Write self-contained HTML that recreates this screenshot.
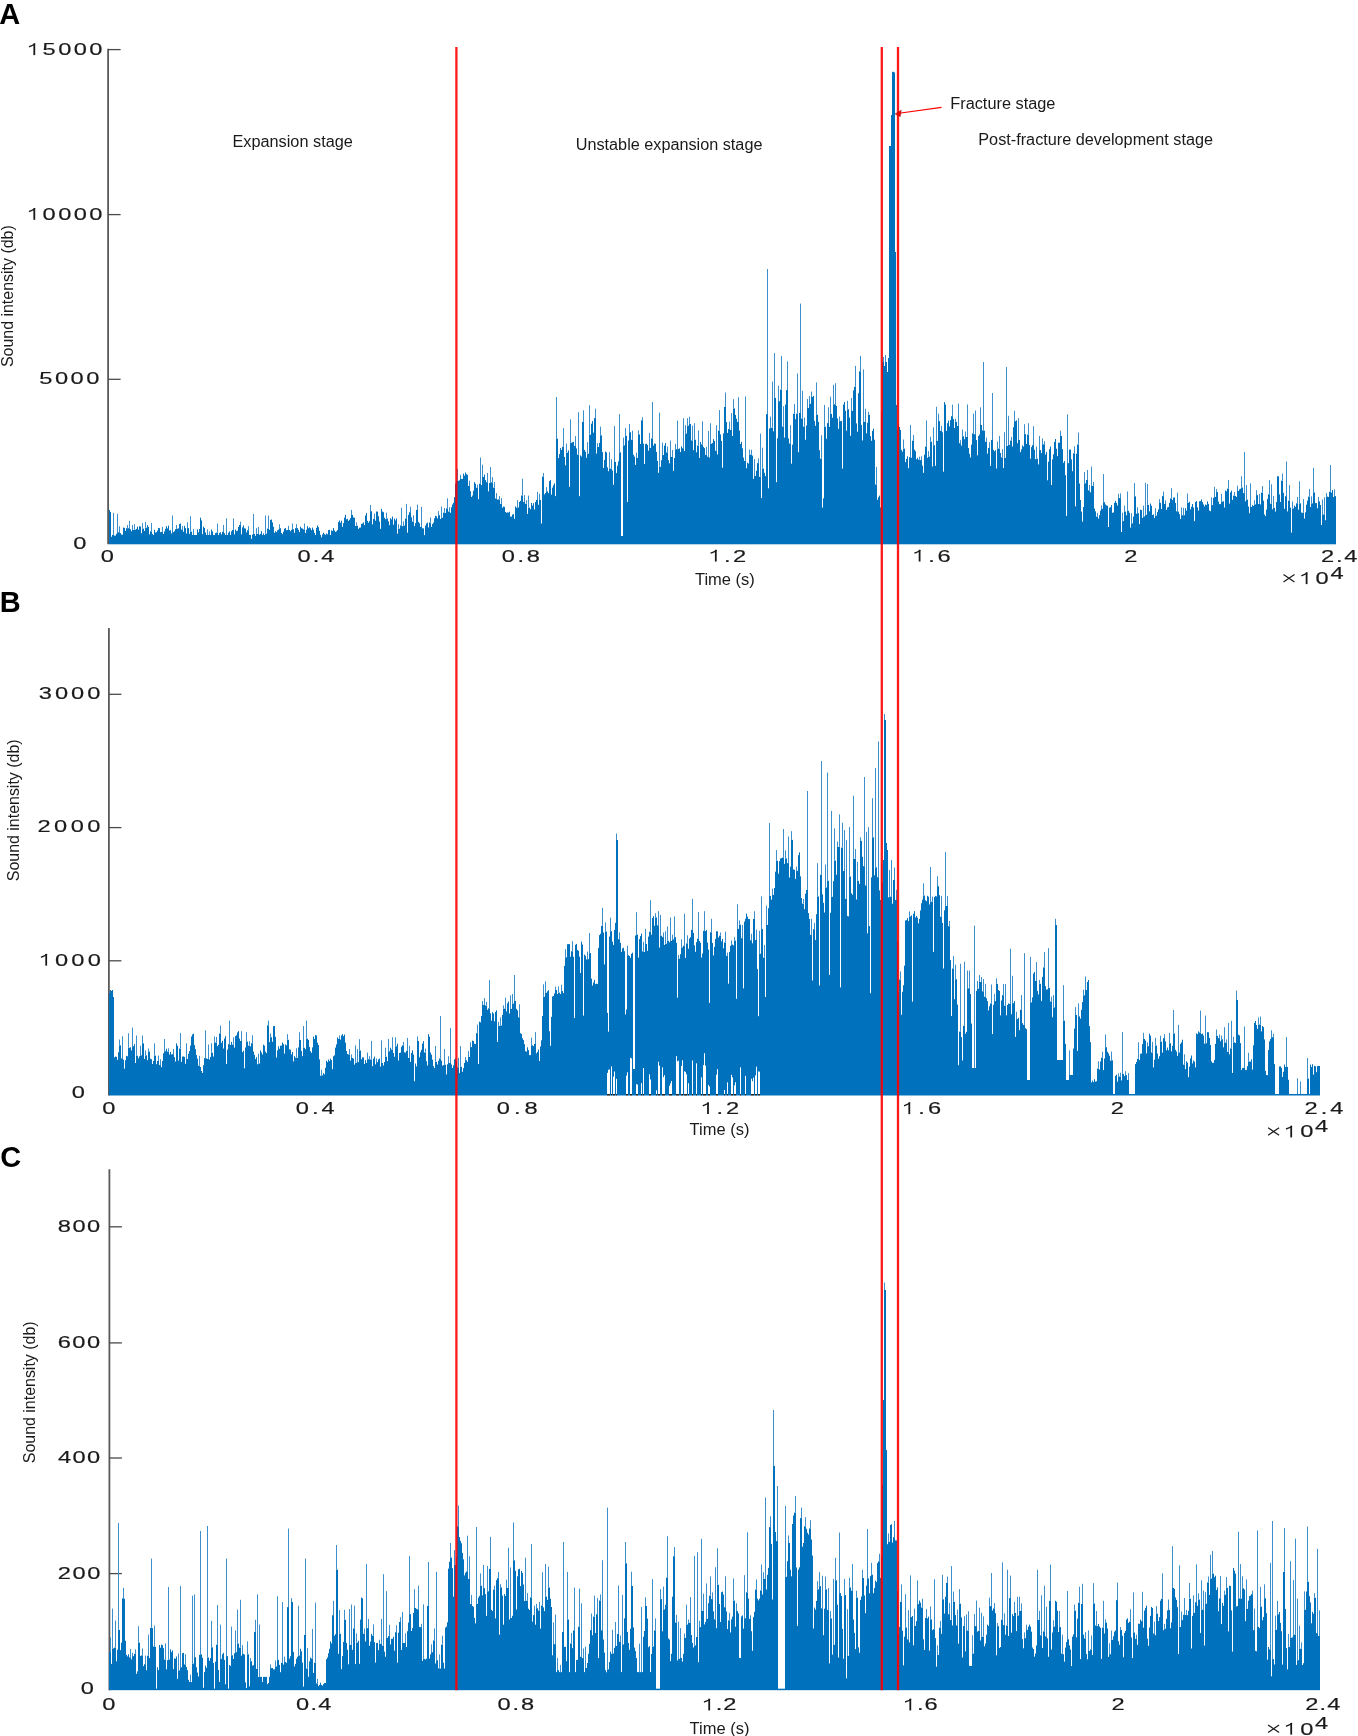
<!DOCTYPE html><html><head><meta charset="utf-8"><style>html,body{margin:0;padding:0;background:#fff;width:1358px;height:1736px;overflow:hidden}svg{display:block;font-family:"Liberation Sans",sans-serif;filter:blur(0.4px)}</style></head><body>
<svg width="1358" height="1736" viewBox="0 0 1358 1736">
<path d="M108.1 48.8V544.3" stroke="#5a5a5a" stroke-width="1.8" fill="none"/>
<path d="M108.1 49.6H120.6" stroke="#4a4a4a" stroke-width="1.3" fill="none"/>
<path d="M108.1 214.6H120.6" stroke="#4a4a4a" stroke-width="1.3" fill="none"/>
<path d="M108.1 379.3H120.6" stroke="#4a4a4a" stroke-width="1.3" fill="none"/>
<path d="M108.9 627.9V1095.5" stroke="#5a5a5a" stroke-width="1.8" fill="none"/>
<path d="M108.9 694.3H121.4" stroke="#4a4a4a" stroke-width="1.3" fill="none"/>
<path d="M108.9 827.6H121.4" stroke="#4a4a4a" stroke-width="1.3" fill="none"/>
<path d="M108.9 960.8H121.4" stroke="#4a4a4a" stroke-width="1.3" fill="none"/>
<path d="M109.4 1169.2V1690.2" stroke="#5a5a5a" stroke-width="1.8" fill="none"/>
<path d="M109.4 1226.8H121.9" stroke="#4a4a4a" stroke-width="1.3" fill="none"/>
<path d="M109.4 1342.9H121.9" stroke="#4a4a4a" stroke-width="1.3" fill="none"/>
<path d="M109.4 1458.0H121.9" stroke="#4a4a4a" stroke-width="1.3" fill="none"/>
<path d="M109.4 1573.6H121.9" stroke="#4a4a4a" stroke-width="1.3" fill="none"/>
<path d="M109.5 544.3V510.0M110.5 544.3V512.0M111.5 544.3V536.8M112.5 544.3V534.9M113.5 544.3V534.9M114.5 544.3V535.6M115.5 544.3V535.6M116.5 544.3V533.8M117.5 544.3V532.2M118.5 544.3V532.2M119.5 544.3V532.2M120.5 544.3V533.1M121.5 544.3V534.5M122.5 544.3V534.8M123.5 544.3V527.5M124.5 544.3V527.9M125.5 544.3V530.9M126.5 544.3V528.2M127.5 544.3V528.2M128.5 544.3V528.2M129.5 544.3V528.2M130.5 544.3V529.4M131.5 544.3V531.3M132.5 544.3V530.0M133.5 544.3V530.0M134.5 544.3V529.7M135.5 544.3V529.7M136.5 544.3V528.9M137.5 544.3V526.7M138.5 544.3V529.7M139.5 544.3V526.2M140.5 544.3V526.5M141.5 544.3V533.2M142.5 544.3V528.6M143.5 544.3V528.6M144.5 544.3V531.0M145.5 544.3V527.7M146.5 544.3V527.7M147.5 544.3V525.1M148.5 544.3V526.9M149.5 544.3V534.4M150.5 544.3V531.3M151.5 544.3V531.3M152.5 544.3V533.9M153.5 544.3V535.0M154.5 544.3V529.8M155.5 544.3V532.4M156.5 544.3V532.2M157.5 544.3V530.6M158.5 544.3V527.9M159.5 544.3V528.2M160.5 544.3V532.2M161.5 544.3V531.9M162.5 544.3V531.9M163.5 544.3V534.0M164.5 544.3V531.4M165.5 544.3V528.8M166.5 544.3V526.2M167.5 544.3V528.4M168.5 544.3V525.7M169.5 544.3V530.5M170.5 544.3V530.2M171.5 544.3V533.5M172.5 544.3V532.1M173.5 544.3V532.1M174.5 544.3V531.2M175.5 544.3V529.1M176.5 544.3V528.7M177.5 544.3V528.7M178.5 544.3V528.4M179.5 544.3V524.1M180.5 544.3V523.5M181.5 544.3V529.6M182.5 544.3V529.6M183.5 544.3V531.7M184.5 544.3V525.8M185.5 544.3V528.1M186.5 544.3V533.5M187.5 544.3V528.1M188.5 544.3V528.1M189.5 544.3V533.9M190.5 544.3V531.6M191.5 544.3V531.6M192.5 544.3V535.0M193.5 544.3V535.0M194.5 544.3V535.0M195.5 544.3V535.0M196.5 544.3V535.0M197.5 544.3V529.6M198.5 544.3V532.3M199.5 544.3V529.0M200.5 544.3V517.7M201.5 544.3V520.4M202.5 544.3V534.1M203.5 544.3V526.6M204.5 544.3V528.0M205.5 544.3V532.5M206.5 544.3V535.0M207.5 544.3V535.0M208.5 544.3V535.0M209.5 544.3V535.0M210.5 544.3V535.0M211.5 544.3V529.6M212.5 544.3V531.4M213.5 544.3V535.0M214.5 544.3V535.0M215.5 544.3V533.1M216.5 544.3V532.7M217.5 544.3V532.7M218.5 544.3V535.0M219.5 544.3V532.9M220.5 544.3V532.3M221.5 544.3V534.4M222.5 544.3V531.9M223.5 544.3V531.9M224.5 544.3V533.2M225.5 544.3V535.0M226.5 544.3V535.0M227.5 544.3V535.0M228.5 544.3V532.7M229.5 544.3V531.4M230.5 544.3V535.0M231.5 544.3V531.3M232.5 544.3V530.0M233.5 544.3V530.0M234.5 544.3V534.4M235.5 544.3V529.6M236.5 544.3V531.2M237.5 544.3V530.7M238.5 544.3V527.0M239.5 544.3V525.0M240.5 544.3V525.0M241.5 544.3V534.3M242.5 544.3V527.4M243.5 544.3V525.4M244.5 544.3V528.3M245.5 544.3V528.5M246.5 544.3V532.4M247.5 544.3V530.2M248.5 544.3V530.2M249.5 544.3V535.0M250.5 544.3V535.0M251.5 544.3V538.9M252.5 544.3V534.6M253.5 544.3V533.8M254.5 544.3V533.8M255.5 544.3V535.8M256.5 544.3V533.9M257.5 544.3V533.9M258.5 544.3V533.9M259.5 544.3V534.7M260.5 544.3V533.9M261.5 544.3V531.2M262.5 544.3V535.0M263.5 544.3V533.4M264.5 544.3V535.0M265.5 544.3V533.7M266.5 544.3V533.7M267.5 544.3V528.5M268.5 544.3V528.5M269.5 544.3V529.8M270.5 544.3V519.9M271.5 544.3V519.5M272.5 544.3V522.4M273.5 544.3V526.8M274.5 544.3V532.8M275.5 544.3V531.2M276.5 544.3V532.1M277.5 544.3V530.3M278.5 544.3V529.6M279.5 544.3V528.2M280.5 544.3V528.2M281.5 544.3V533.0M282.5 544.3V534.2M283.5 544.3V531.7M284.5 544.3V528.7M285.5 544.3V528.1M286.5 544.3V530.2M287.5 544.3V530.0M288.5 544.3V530.0M289.5 544.3V530.0M290.5 544.3V531.2M291.5 544.3V529.8M292.5 544.3V529.2M293.5 544.3V529.2M294.5 544.3V532.8M295.5 544.3V528.1M296.5 544.3V528.1M297.5 544.3V528.1M298.5 544.3V529.8M299.5 544.3V532.1M300.5 544.3V526.7M301.5 544.3V528.2M302.5 544.3V528.5M303.5 544.3V529.4M304.5 544.3V529.4M305.5 544.3V533.0M306.5 544.3V529.6M307.5 544.3V526.1M308.5 544.3V528.2M309.5 544.3V527.3M310.5 544.3V528.3M311.5 544.3V530.2M312.5 544.3V527.6M313.5 544.3V529.7M314.5 544.3V532.9M315.5 544.3V535.0M316.5 544.3V527.9M317.5 544.3V525.5M318.5 544.3V527.2M319.5 544.3V530.8M320.5 544.3V534.8M321.5 544.3V537.4M322.5 544.3V534.4M323.5 544.3V532.7M324.5 544.3V534.2M325.5 544.3V534.8M326.5 544.3V533.5M327.5 544.3V534.3M328.5 544.3V530.1M329.5 544.3V529.8M330.5 544.3V535.0M331.5 544.3V530.4M332.5 544.3V530.9M333.5 544.3V528.0M334.5 544.3V530.5M335.5 544.3V531.9M336.5 544.3V531.4M337.5 544.3V530.0M338.5 544.3V522.1M339.5 544.3V520.5M340.5 544.3V522.7M341.5 544.3V520.7M342.5 544.3V526.8M343.5 544.3V523.1M344.5 544.3V517.6M345.5 544.3V514.8M346.5 544.3V519.3M347.5 544.3V518.9M348.5 544.3V521.0M349.5 544.3V519.8M350.5 544.3V518.2M351.5 544.3V514.9M352.5 544.3V514.9M353.5 544.3V517.4M354.5 544.3V517.8M355.5 544.3V526.0M356.5 544.3V525.7M357.5 544.3V525.7M358.5 544.3V529.0M359.5 544.3V527.7M360.5 544.3V527.5M361.5 544.3V523.9M362.5 544.3V523.5M363.5 544.3V522.4M364.5 544.3V525.1M365.5 544.3V515.5M366.5 544.3V513.1M367.5 544.3V520.8M368.5 544.3V522.7M369.5 544.3V521.1M370.5 544.3V511.2M371.5 544.3V511.2M372.5 544.3V524.4M373.5 544.3V518.9M374.5 544.3V518.9M375.5 544.3V520.7M376.5 544.3V511.5M377.5 544.3V511.6M378.5 544.3V516.2M379.5 544.3V521.6M380.5 544.3V528.9M381.5 544.3V508.9M382.5 544.3V511.5M383.5 544.3V512.2M384.5 544.3V517.7M385.5 544.3V519.2M386.5 544.3V518.5M387.5 544.3V518.5M388.5 544.3V521.3M389.5 544.3V525.1M390.5 544.3V518.2M391.5 544.3V519.4M392.5 544.3V516.6M393.5 544.3V524.7M394.5 544.3V518.6M395.5 544.3V520.4M396.5 544.3V518.4M397.5 544.3V533.7M398.5 544.3V528.7M399.5 544.3V528.7M400.5 544.3V525.4M401.5 544.3V525.4M402.5 544.3V526.2M403.5 544.3V525.6M404.5 544.3V525.6M405.5 544.3V518.5M406.5 544.3V518.5M407.5 544.3V532.7M408.5 544.3V514.9M409.5 544.3V512.2M410.5 544.3V512.2M411.5 544.3V517.3M412.5 544.3V521.6M413.5 544.3V521.6M414.5 544.3V526.0M415.5 544.3V523.1M416.5 544.3V509.9M417.5 544.3V509.9M418.5 544.3V521.9M419.5 544.3V523.3M420.5 544.3V526.9M421.5 544.3V526.9M422.5 544.3V528.4M423.5 544.3V528.3M424.5 544.3V535.1M425.5 544.3V525.6M426.5 544.3V523.5M427.5 544.3V522.6M428.5 544.3V527.4M429.5 544.3V522.5M430.5 544.3V522.5M431.5 544.3V526.8M432.5 544.3V524.0M433.5 544.3V522.6M434.5 544.3V518.3M435.5 544.3V515.8M436.5 544.3V516.4M437.5 544.3V518.4M438.5 544.3V515.2M439.5 544.3V515.2M440.5 544.3V519.0M441.5 544.3V517.7M442.5 544.3V517.7M443.5 544.3V512.7M444.5 544.3V512.7M445.5 544.3V512.9M446.5 544.3V508.4M447.5 544.3V508.4M448.5 544.3V511.6M449.5 544.3V511.6M450.5 544.3V512.9M451.5 544.3V507.3M452.5 544.3V504.5M453.5 544.3V502.7M454.5 544.3V497.1M455.5 544.3V483.6M456.5 544.3V481.3M457.5 544.3V480.8M458.5 544.3V480.8M459.5 544.3V480.3M460.5 544.3V479.0M461.5 544.3V479.0M462.5 544.3V478.9M463.5 544.3V473.6M464.5 544.3V475.6M465.5 544.3V472.5M466.5 544.3V474.2M467.5 544.3V474.8M468.5 544.3V486.0M469.5 544.3V486.0M470.5 544.3V491.2M471.5 544.3V497.0M472.5 544.3V495.5M473.5 544.3V490.7M474.5 544.3V482.2M475.5 544.3V483.7M476.5 544.3V487.7M477.5 544.3V487.7M478.5 544.3V499.2M479.5 544.3V483.7M480.5 544.3V483.7M481.5 544.3V485.1M482.5 544.3V477.0M483.5 544.3V477.0M484.5 544.3V474.6M485.5 544.3V480.0M486.5 544.3V482.2M487.5 544.3V482.2M488.5 544.3V491.4M489.5 544.3V483.1M490.5 544.3V482.3M491.5 544.3V482.3M492.5 544.3V482.3M493.5 544.3V487.7M494.5 544.3V487.7M495.5 544.3V498.5M496.5 544.3V498.5M497.5 544.3V499.6M498.5 544.3V499.4M499.5 544.3V499.4M500.5 544.3V503.9M501.5 544.3V503.9M502.5 544.3V507.7M503.5 544.3V506.5M504.5 544.3V506.9M505.5 544.3V511.9M506.5 544.3V512.7M507.5 544.3V512.4M508.5 544.3V512.6M509.5 544.3V511.8M510.5 544.3V516.6M511.5 544.3V516.6M512.5 544.3V514.6M513.5 544.3V514.1M514.5 544.3V518.8M515.5 544.3V506.4M516.5 544.3V507.7M517.5 544.3V507.4M518.5 544.3V507.4M519.5 544.3V502.0M520.5 544.3V500.9M521.5 544.3V495.5M522.5 544.3V495.5M523.5 544.3V502.0M524.5 544.3V502.0M525.5 544.3V503.8M526.5 544.3V503.8M527.5 544.3V513.9M528.5 544.3V507.6M529.5 544.3V507.6M530.5 544.3V509.2M531.5 544.3V503.0M532.5 544.3V505.6M533.5 544.3V503.2M534.5 544.3V509.5M535.5 544.3V502.0M536.5 544.3V500.0M537.5 544.3V500.0M538.5 544.3V504.8M539.5 544.3V500.0M540.5 544.3V500.0M541.5 544.3V523.5M542.5 544.3V476.6M543.5 544.3V476.6M544.5 544.3V494.4M545.5 544.3V493.0M546.5 544.3V491.3M547.5 544.3V491.3M548.5 544.3V493.1M549.5 544.3V481.2M550.5 544.3V480.1M551.5 544.3V494.6M552.5 544.3V487.6M553.5 544.3V485.2M554.5 544.3V483.4M555.5 544.3V496.1M556.5 544.3V438.6M557.5 544.3V438.6M558.5 544.3V458.1M559.5 544.3V454.1M560.5 544.3V448.1M561.5 544.3V450.0M562.5 544.3V446.8M563.5 544.3V446.8M564.5 544.3V457.0M565.5 544.3V465.4M566.5 544.3V452.7M567.5 544.3V452.7M568.5 544.3V450.4M569.5 544.3V486.8M570.5 544.3V442.7M571.5 544.3V442.7M572.5 544.3V442.3M573.5 544.3V441.9M574.5 544.3V446.0M575.5 544.3V446.0M576.5 544.3V448.4M577.5 544.3V454.7M578.5 544.3V454.7M579.5 544.3V496.2M580.5 544.3V455.4M581.5 544.3V456.5M582.5 544.3V421.9M583.5 544.3V421.9M584.5 544.3V449.9M585.5 544.3V451.7M586.5 544.3V457.8M587.5 544.3V453.7M588.5 544.3V453.7M589.5 544.3V434.7M590.5 544.3V434.7M591.5 544.3V423.7M592.5 544.3V421.1M593.5 544.3V432.7M594.5 544.3V418.1M595.5 544.3V418.1M596.5 544.3V453.6M597.5 544.3V446.9M598.5 544.3V446.9M599.5 544.3V443.0M600.5 544.3V435.3M601.5 544.3V435.3M602.5 544.3V452.1M603.5 544.3V468.0M604.5 544.3V459.9M605.5 544.3V451.6M606.5 544.3V452.5M607.5 544.3V467.4M608.5 544.3V471.2M609.5 544.3V468.5M610.5 544.3V468.5M611.5 544.3V468.5M612.5 544.3V470.5M613.5 544.3V484.8M614.5 544.3V461.9M615.5 544.3V461.9M616.5 544.3V473.1M617.5 544.3V465.7M618.5 544.3V461.4M619.5 544.3V452.3M620.5 544.3V452.3M621.5 544.3V536.0M622.5 544.3V536.0M623.5 544.3V445.3M624.5 544.3V445.3M625.5 544.3V435.8M626.5 544.3V435.8M627.5 544.3V501.9M628.5 544.3V440.5M629.5 544.3V432.2M630.5 544.3V432.2M631.5 544.3V439.8M632.5 544.3V439.8M633.5 544.3V454.8M634.5 544.3V456.6M635.5 544.3V465.0M636.5 544.3V457.9M637.5 544.3V457.9M638.5 544.3V434.4M639.5 544.3V434.4M640.5 544.3V444.0M641.5 544.3V420.3M642.5 544.3V420.3M643.5 544.3V443.6M644.5 544.3V464.0M645.5 544.3V444.1M646.5 544.3V443.7M647.5 544.3V444.9M648.5 544.3V450.7M649.5 544.3V448.0M650.5 544.3V448.0M651.5 544.3V438.4M652.5 544.3V438.4M653.5 544.3V445.6M654.5 544.3V443.5M655.5 544.3V443.8M656.5 544.3V452.0M657.5 544.3V460.9M658.5 544.3V472.9M659.5 544.3V466.8M660.5 544.3V466.8M661.5 544.3V460.2M662.5 544.3V455.1M663.5 544.3V455.1M664.5 544.3V445.6M665.5 544.3V443.0M666.5 544.3V452.4M667.5 544.3V452.4M668.5 544.3V460.1M669.5 544.3V463.3M670.5 544.3V456.9M671.5 544.3V456.9M672.5 544.3V456.9M673.5 544.3V470.9M674.5 544.3V458.0M675.5 544.3V449.2M676.5 544.3V449.2M677.5 544.3V449.1M678.5 544.3V449.1M679.5 544.3V448.4M680.5 544.3V452.1M681.5 544.3V446.4M682.5 544.3V448.2M683.5 544.3V448.2M684.5 544.3V451.1M685.5 544.3V433.5M686.5 544.3V433.5M687.5 544.3V425.7M688.5 544.3V425.7M689.5 544.3V423.9M690.5 544.3V423.9M691.5 544.3V440.5M692.5 544.3V440.5M693.5 544.3V450.2M694.5 544.3V439.7M695.5 544.3V439.7M696.5 544.3V452.3M697.5 544.3V445.5M698.5 544.3V445.5M699.5 544.3V457.9M700.5 544.3V442.0M701.5 544.3V444.4M702.5 544.3V444.4M703.5 544.3V446.9M704.5 544.3V448.1M705.5 544.3V454.9M706.5 544.3V454.9M707.5 544.3V456.6M708.5 544.3V456.6M709.5 544.3V457.6M710.5 544.3V443.7M711.5 544.3V443.7M712.5 544.3V443.0M713.5 544.3V439.1M714.5 544.3V441.0M715.5 544.3V450.7M716.5 544.3V450.7M717.5 544.3V454.5M718.5 544.3V430.6M719.5 544.3V430.6M720.5 544.3V434.4M721.5 544.3V441.0M722.5 544.3V467.7M723.5 544.3V433.4M724.5 544.3V406.9M725.5 544.3V406.9M726.5 544.3V422.1M727.5 544.3V433.0M728.5 544.3V429.1M729.5 544.3V429.1M730.5 544.3V430.0M731.5 544.3V430.0M732.5 544.3V436.0M733.5 544.3V408.4M734.5 544.3V408.4M735.5 544.3V415.0M736.5 544.3V418.7M737.5 544.3V421.9M738.5 544.3V421.9M739.5 544.3V430.6M740.5 544.3V444.0M741.5 544.3V441.8M742.5 544.3V448.3M743.5 544.3V457.6M744.5 544.3V460.9M745.5 544.3V460.9M746.5 544.3V468.3M747.5 544.3V462.7M748.5 544.3V463.6M749.5 544.3V454.6M750.5 544.3V454.6M751.5 544.3V454.6M752.5 544.3V455.6M753.5 544.3V478.8M754.5 544.3V476.0M755.5 544.3V476.0M756.5 544.3V470.8M757.5 544.3V463.1M758.5 544.3V463.1M759.5 544.3V476.8M760.5 544.3V476.8M761.5 544.3V498.1M762.5 544.3V468.6M763.5 544.3V468.6M764.5 544.3V472.8M765.5 544.3V476.1M766.5 544.3V414.1M767.5 544.3V414.1M768.5 544.3V488.3M769.5 544.3V428.5M770.5 544.3V427.7M771.5 544.3V427.7M772.5 544.3V427.7M773.5 544.3V431.3M774.5 544.3V397.8M775.5 544.3V397.8M776.5 544.3V482.2M777.5 544.3V438.3M778.5 544.3V401.2M779.5 544.3V401.2M780.5 544.3V389.7M781.5 544.3V389.7M782.5 544.3V426.5M783.5 544.3V426.5M784.5 544.3V437.6M785.5 544.3V404.6M786.5 544.3V390.1M787.5 544.3V390.1M788.5 544.3V438.4M789.5 544.3V443.5M790.5 544.3V443.5M791.5 544.3V463.7M792.5 544.3V444.7M793.5 544.3V413.8M794.5 544.3V413.8M795.5 544.3V419.2M796.5 544.3V413.7M797.5 544.3V413.7M798.5 544.3V452.2M799.5 544.3V412.9M800.5 544.3V412.9M801.5 544.3V418.6M802.5 544.3V418.6M803.5 544.3V426.6M804.5 544.3V426.6M805.5 544.3V439.8M806.5 544.3V425.5M807.5 544.3V408.0M808.5 544.3V408.0M809.5 544.3V403.7M810.5 544.3V403.7M811.5 544.3V396.9M812.5 544.3V396.9M813.5 544.3V395.9M814.5 544.3V420.9M815.5 544.3V425.8M816.5 544.3V414.6M817.5 544.3V414.6M818.5 544.3V421.9M819.5 544.3V450.2M820.5 544.3V458.7M821.5 544.3V458.7M822.5 544.3V507.5M823.5 544.3V498.3M824.5 544.3V426.7M825.5 544.3V426.7M826.5 544.3V438.7M827.5 544.3V423.1M828.5 544.3V423.1M829.5 544.3V426.9M830.5 544.3V413.9M831.5 544.3V413.9M832.5 544.3V417.7M833.5 544.3V404.3M834.5 544.3V404.3M835.5 544.3V404.3M836.5 544.3V406.0M837.5 544.3V418.4M838.5 544.3V428.9M839.5 544.3V421.2M840.5 544.3V421.2M841.5 544.3V420.9M842.5 544.3V468.6M843.5 544.3V404.5M844.5 544.3V402.0M845.5 544.3V410.8M846.5 544.3V430.6M847.5 544.3V409.3M848.5 544.3V409.3M849.5 544.3V417.5M850.5 544.3V435.8M851.5 544.3V410.9M852.5 544.3V410.9M853.5 544.3V390.5M854.5 544.3V386.8M855.5 544.3V386.8M856.5 544.3V423.4M857.5 544.3V431.7M858.5 544.3V393.3M859.5 544.3V371.3M860.5 544.3V371.3M861.5 544.3V424.9M862.5 544.3V440.5M863.5 544.3V421.8M864.5 544.3V421.8M865.5 544.3V421.8M866.5 544.3V433.4M867.5 544.3V422.8M868.5 544.3V414.8M869.5 544.3V414.8M870.5 544.3V436.1M871.5 544.3V440.8M872.5 544.3V430.9M873.5 544.3V428.7M874.5 544.3V439.7M875.5 544.3V484.5M876.5 544.3V484.5M877.5 544.3V499.8M878.5 544.3V497.3M879.5 544.3V495.6M880.5 544.3V507.5M881.5 544.3V411.2M882.5 544.3V362.0M883.5 544.3V362.0M884.5 544.3V366.0M885.5 544.3V362.0M886.5 544.3V362.0M887.5 544.3V372.0M888.5 544.3V358.0M889.5 544.3V146.0M890.5 544.3V146.0M891.5 544.3V115.0M892.5 544.3V71.8M893.5 544.3V71.8M894.5 544.3V72.5M895.5 544.3V252.0M896.5 544.3V405.0M897.5 544.3V430.0M898.5 544.3V424.4M899.5 544.3V427.0M900.5 544.3V430.0M901.5 544.3V449.9M902.5 544.3V451.7M903.5 544.3V448.6M904.5 544.3V448.6M905.5 544.3V462.1M906.5 544.3V458.9M907.5 544.3V456.3M908.5 544.3V468.2M909.5 544.3V457.2M910.5 544.3V457.2M911.5 544.3V457.7M912.5 544.3V440.7M913.5 544.3V440.7M914.5 544.3V449.6M915.5 544.3V451.2M916.5 544.3V459.3M917.5 544.3V457.9M918.5 544.3V459.7M919.5 544.3V459.7M920.5 544.3V460.1M921.5 544.3V460.1M922.5 544.3V465.6M923.5 544.3V472.9M924.5 544.3V454.7M925.5 544.3V446.5M926.5 544.3V446.5M927.5 544.3V457.8M928.5 544.3V456.6M929.5 544.3V456.6M930.5 544.3V441.7M931.5 544.3V441.7M932.5 544.3V466.5M933.5 544.3V445.2M934.5 544.3V445.2M935.5 544.3V465.8M936.5 544.3V440.9M937.5 544.3V440.9M938.5 544.3V421.1M939.5 544.3V421.1M940.5 544.3V430.9M941.5 544.3V430.9M942.5 544.3V432.3M943.5 544.3V471.7M944.5 544.3V402.1M945.5 544.3V404.6M946.5 544.3V431.0M947.5 544.3V423.2M948.5 544.3V420.6M949.5 544.3V426.4M950.5 544.3V420.2M951.5 544.3V416.2M952.5 544.3V416.2M953.5 544.3V419.1M954.5 544.3V428.0M955.5 544.3V421.8M956.5 544.3V421.8M957.5 544.3V426.0M958.5 544.3V426.0M959.5 544.3V443.2M960.5 544.3V443.2M961.5 544.3V445.7M962.5 544.3V436.3M963.5 544.3V436.3M964.5 544.3V439.2M965.5 544.3V437.0M966.5 544.3V437.0M967.5 544.3V437.0M968.5 544.3V448.0M969.5 544.3V453.8M970.5 544.3V457.5M971.5 544.3V444.7M972.5 544.3V433.4M973.5 544.3V433.4M974.5 544.3V434.2M975.5 544.3V434.2M976.5 544.3V440.1M977.5 544.3V455.3M978.5 544.3V436.0M979.5 544.3V434.5M980.5 544.3V425.0M981.5 544.3V425.0M982.5 544.3V430.4M983.5 544.3V430.4M984.5 544.3V430.7M985.5 544.3V441.7M986.5 544.3V441.7M987.5 544.3V453.7M988.5 544.3V448.0M989.5 544.3V448.0M990.5 544.3V465.9M991.5 544.3V440.0M992.5 544.3V440.0M993.5 544.3V449.8M994.5 544.3V451.3M995.5 544.3V450.2M996.5 544.3V468.5M997.5 544.3V448.5M998.5 544.3V448.5M999.5 544.3V448.5M1000.5 544.3V453.0M1001.5 544.3V457.4M1002.5 544.3V457.4M1003.5 544.3V468.1M1004.5 544.3V457.9M1005.5 544.3V457.9M1006.5 544.3V445.9M1007.5 544.3V445.9M1008.5 544.3V444.9M1009.5 544.3V444.9M1010.5 544.3V440.6M1011.5 544.3V440.6M1012.5 544.3V446.5M1013.5 544.3V427.2M1014.5 544.3V421.2M1015.5 544.3V421.2M1016.5 544.3V420.4M1017.5 544.3V443.2M1018.5 544.3V440.0M1019.5 544.3V440.0M1020.5 544.3V452.1M1021.5 544.3V449.4M1022.5 544.3V445.4M1023.5 544.3V446.6M1024.5 544.3V434.1M1025.5 544.3V434.1M1026.5 544.3V443.9M1027.5 544.3V434.6M1028.5 544.3V434.6M1029.5 544.3V445.1M1030.5 544.3V458.7M1031.5 544.3V447.1M1032.5 544.3V445.1M1033.5 544.3V445.1M1034.5 544.3V449.8M1035.5 544.3V459.2M1036.5 544.3V458.6M1037.5 544.3V458.6M1038.5 544.3V464.4M1039.5 544.3V450.1M1040.5 544.3V450.1M1041.5 544.3V453.1M1042.5 544.3V444.3M1043.5 544.3V444.3M1044.5 544.3V444.3M1045.5 544.3V454.5M1046.5 544.3V451.9M1047.5 544.3V480.3M1048.5 544.3V461.7M1049.5 544.3V449.2M1050.5 544.3V446.5M1051.5 544.3V485.0M1052.5 544.3V459.3M1053.5 544.3V454.3M1054.5 544.3V441.9M1055.5 544.3V439.0M1056.5 544.3V448.7M1057.5 544.3V456.1M1058.5 544.3V442.8M1059.5 544.3V442.7M1060.5 544.3V435.9M1061.5 544.3V435.9M1062.5 544.3V449.2M1063.5 544.3V462.8M1064.5 544.3V461.1M1065.5 544.3V475.2M1066.5 544.3V515.9M1067.5 544.3V463.1M1068.5 544.3V463.1M1069.5 544.3V449.6M1070.5 544.3V449.7M1071.5 544.3V459.4M1072.5 544.3V471.2M1073.5 544.3V453.3M1074.5 544.3V453.3M1075.5 544.3V506.3M1076.5 544.3V453.8M1077.5 544.3V444.5M1078.5 544.3V444.5M1079.5 544.3V483.5M1080.5 544.3V500.0M1081.5 544.3V511.6M1082.5 544.3V521.6M1083.5 544.3V507.0M1084.5 544.3V483.3M1085.5 544.3V483.3M1086.5 544.3V480.0M1087.5 544.3V480.0M1088.5 544.3V490.4M1089.5 544.3V490.4M1090.5 544.3V492.4M1091.5 544.3V485.9M1092.5 544.3V485.9M1093.5 544.3V485.9M1094.5 544.3V508.6M1095.5 544.3V511.3M1096.5 544.3V516.6M1097.5 544.3V516.6M1098.5 544.3V518.6M1099.5 544.3V515.2M1100.5 544.3V510.7M1101.5 544.3V508.8M1102.5 544.3V508.8M1103.5 544.3V502.2M1104.5 544.3V502.2M1105.5 544.3V504.4M1106.5 544.3V505.4M1107.5 544.3V505.7M1108.5 544.3V527.0M1109.5 544.3V507.7M1110.5 544.3V507.3M1111.5 544.3V505.1M1112.5 544.3V512.8M1113.5 544.3V512.4M1114.5 544.3V502.8M1115.5 544.3V500.9M1116.5 544.3V502.9M1117.5 544.3V505.5M1118.5 544.3V498.1M1119.5 544.3V498.1M1120.5 544.3V498.1M1121.5 544.3V532.0M1122.5 544.3V521.1M1123.5 544.3V521.1M1124.5 544.3V511.6M1125.5 544.3V511.6M1126.5 544.3V515.3M1127.5 544.3V510.8M1128.5 544.3V510.8M1129.5 544.3V512.8M1130.5 544.3V527.6M1131.5 544.3V523.3M1132.5 544.3V523.3M1133.5 544.3V516.6M1134.5 544.3V496.3M1135.5 544.3V496.3M1136.5 544.3V513.7M1137.5 544.3V513.2M1138.5 544.3V513.2M1139.5 544.3V524.1M1140.5 544.3V509.7M1141.5 544.3V510.1M1142.5 544.3V517.9M1143.5 544.3V516.4M1144.5 544.3V516.4M1145.5 544.3V514.9M1146.5 544.3V514.9M1147.5 544.3V504.9M1148.5 544.3V504.9M1149.5 544.3V511.3M1150.5 544.3V503.5M1151.5 544.3V505.7M1152.5 544.3V515.0M1153.5 544.3V514.4M1154.5 544.3V518.1M1155.5 544.3V515.6M1156.5 544.3V515.6M1157.5 544.3V512.1M1158.5 544.3V509.4M1159.5 544.3V502.9M1160.5 544.3V502.9M1161.5 544.3V509.0M1162.5 544.3V496.1M1163.5 544.3V496.1M1164.5 544.3V504.0M1165.5 544.3V504.0M1166.5 544.3V509.9M1167.5 544.3V507.4M1168.5 544.3V507.0M1169.5 544.3V502.9M1170.5 544.3V498.4M1171.5 544.3V498.4M1172.5 544.3V500.1M1173.5 544.3V497.5M1174.5 544.3V497.5M1175.5 544.3V502.9M1176.5 544.3V511.3M1177.5 544.3V511.3M1178.5 544.3V511.6M1179.5 544.3V514.2M1180.5 544.3V519.1M1181.5 544.3V515.2M1182.5 544.3V515.2M1183.5 544.3V515.2M1184.5 544.3V515.2M1185.5 544.3V508.2M1186.5 544.3V510.7M1187.5 544.3V502.8M1188.5 544.3V502.8M1189.5 544.3V501.8M1190.5 544.3V509.4M1191.5 544.3V506.8M1192.5 544.3V504.0M1193.5 544.3V507.5M1194.5 544.3V521.2M1195.5 544.3V501.9M1196.5 544.3V501.2M1197.5 544.3V507.3M1198.5 544.3V510.6M1199.5 544.3V501.3M1200.5 544.3V501.1M1201.5 544.3V499.4M1202.5 544.3V502.1M1203.5 544.3V504.4M1204.5 544.3V506.4M1205.5 544.3V504.5M1206.5 544.3V505.0M1207.5 544.3V501.4M1208.5 544.3V503.9M1209.5 544.3V510.6M1210.5 544.3V511.2M1211.5 544.3V505.1M1212.5 544.3V505.1M1213.5 544.3V497.9M1214.5 544.3V496.9M1215.5 544.3V496.9M1216.5 544.3V492.1M1217.5 544.3V492.1M1218.5 544.3V501.6M1219.5 544.3V504.1M1220.5 544.3V504.1M1221.5 544.3V501.7M1222.5 544.3V501.7M1223.5 544.3V501.2M1224.5 544.3V507.5M1225.5 544.3V490.5M1226.5 544.3V491.3M1227.5 544.3V488.6M1228.5 544.3V488.6M1229.5 544.3V503.6M1230.5 544.3V492.4M1231.5 544.3V490.7M1232.5 544.3V499.9M1233.5 544.3V495.6M1234.5 544.3V495.6M1235.5 544.3V496.0M1236.5 544.3V496.9M1237.5 544.3V491.0M1238.5 544.3V491.0M1239.5 544.3V489.4M1240.5 544.3V488.8M1241.5 544.3V487.5M1242.5 544.3V487.5M1243.5 544.3V493.1M1244.5 544.3V493.1M1245.5 544.3V501.3M1246.5 544.3V499.6M1247.5 544.3V499.6M1248.5 544.3V506.6M1249.5 544.3V513.3M1250.5 544.3V507.0M1251.5 544.3V507.0M1252.5 544.3V505.2M1253.5 544.3V505.9M1254.5 544.3V504.4M1255.5 544.3V504.4M1256.5 544.3V495.1M1257.5 544.3V495.1M1258.5 544.3V504.0M1259.5 544.3V504.0M1260.5 544.3V504.4M1261.5 544.3V492.7M1262.5 544.3V492.7M1263.5 544.3V500.7M1264.5 544.3V514.5M1265.5 544.3V516.1M1266.5 544.3V509.6M1267.5 544.3V498.8M1268.5 544.3V494.3M1269.5 544.3V494.3M1270.5 544.3V503.7M1271.5 544.3V503.7M1272.5 544.3V509.3M1273.5 544.3V507.8M1274.5 544.3V507.8M1275.5 544.3V511.5M1276.5 544.3V502.1M1277.5 544.3V476.2M1278.5 544.3V476.4M1279.5 544.3V494.4M1280.5 544.3V501.9M1281.5 544.3V480.7M1282.5 544.3V480.7M1283.5 544.3V492.9M1284.5 544.3V508.8M1285.5 544.3V496.2M1286.5 544.3V496.2M1287.5 544.3V511.4M1288.5 544.3V500.6M1289.5 544.3V500.6M1290.5 544.3V507.6M1291.5 544.3V532.6M1292.5 544.3V508.4M1293.5 544.3V508.4M1294.5 544.3V505.6M1295.5 544.3V506.9M1296.5 544.3V503.3M1297.5 544.3V503.3M1298.5 544.3V509.7M1299.5 544.3V503.3M1300.5 544.3V503.3M1301.5 544.3V512.5M1302.5 544.3V512.8M1303.5 544.3V512.8M1304.5 544.3V518.5M1305.5 544.3V512.3M1306.5 544.3V504.7M1307.5 544.3V500.6M1308.5 544.3V496.6M1309.5 544.3V496.6M1310.5 544.3V507.0M1311.5 544.3V503.4M1312.5 544.3V503.4M1313.5 544.3V492.4M1314.5 544.3V492.4M1315.5 544.3V503.1M1316.5 544.3V503.1M1317.5 544.3V508.3M1318.5 544.3V501.3M1319.5 544.3V501.3M1320.5 544.3V505.0M1321.5 544.3V525.0M1322.5 544.3V514.4M1323.5 544.3V514.4M1324.5 544.3V514.4M1325.5 544.3V520.2M1326.5 544.3V496.5M1327.5 544.3V496.5M1328.5 544.3V497.0M1329.5 544.3V491.8M1330.5 544.3V491.8M1331.5 544.3V492.7M1332.5 544.3V490.1M1333.5 544.3V497.1M1334.5 544.3V496.1M1335.5 544.3V496.1" stroke="#0072bd" stroke-width="1" fill="none"/>
<path d="M113.5 534.9V512.9M117.5 532.2V513.8M119.5 532.2V526.3M127.5 528.2V525.0M129.5 528.2V520.9M132.5 530.0V524.9M134.5 529.7V524.2M142.5 528.6V523.2M145.5 527.7V522.0M151.5 531.3V523.0M162.5 531.9V526.9M172.5 532.1V515.5M176.5 528.7V525.0M182.5 529.6V526.1M187.5 528.1V522.3M190.5 531.6V516.3M193.5 535.0V529.0M207.5 535.0V529.3M209.5 535.0V531.5M217.5 532.7V523.6M223.5 531.9V524.9M226.5 535.0V518.4M233.5 530.0V518.5M240.5 525.0V521.6M248.5 530.2V526.2M253.5 533.8V514.0M256.5 533.9V528.1M258.5 533.9V526.9M265.5 533.7V515.5M268.5 528.5V515.6M279.5 528.2V524.3M288.5 530.0V525.9M292.5 529.2V523.5M296.5 528.1V524.1M304.5 529.4V523.5M351.5 514.9V509.9M356.5 525.7V522.3M370.5 511.2V505.0M374.5 518.9V513.7M386.5 518.5V512.6M398.5 528.7V524.2M401.5 525.4V507.7M403.5 525.6V521.5M406.5 518.5V503.9M410.5 512.2V506.7M413.5 521.6V515.3M417.5 509.9V504.6M421.5 526.9V506.8M430.5 522.5V517.5M438.5 515.2V511.1M441.5 517.7V506.6M444.5 512.7V508.1M447.5 508.4V498.3M449.5 511.6V507.2M457.5 480.8V469.0M460.5 479.0V474.8M469.5 486.0V480.7M477.5 487.7V484.6M480.5 483.7V457.5M482.5 477.0V464.7M487.5 482.2V473.0M490.5 482.3V467.1M492.5 482.3V477.1M494.5 487.7V482.2M496.5 498.5V493.1M499.5 499.4V496.1M501.5 503.9V498.1M517.5 507.4V500.1M522.5 495.5V478.7M524.5 502.0V495.1M526.5 503.8V500.3M528.5 507.6V495.6M537.5 500.0V491.8M539.5 500.0V493.8M543.5 476.6V473.0M546.5 491.3V487.1M556.5 438.6V397.0M563.5 446.8V428.1M566.5 452.7V443.6M570.5 442.7V419.3M575.5 446.0V436.1M578.5 454.7V412.2M583.5 421.9V410.3M587.5 453.7V442.2M589.5 434.7V405.2M595.5 418.1V408.6M597.5 446.9V443.1M600.5 435.3V426.6M609.5 468.5V452.1M611.5 468.5V459.2M614.5 461.9V426.1M619.5 452.3V414.2M623.5 445.3V437.6M625.5 435.8V428.0M629.5 432.2V423.9M632.5 439.8V430.7M636.5 457.9V452.6M638.5 434.4V430.4M642.5 420.3V417.2M649.5 448.0V432.9M652.5 438.4V402.0M659.5 466.8V412.7M662.5 455.1V442.6M667.5 452.4V446.5M670.5 456.9V440.5M672.5 456.9V450.0M675.5 449.2V443.8M677.5 449.1V420.6M683.5 448.2V418.2M685.5 433.5V425.2M687.5 425.7V418.2M689.5 423.9V416.7M692.5 440.5V425.6M694.5 439.7V423.2M698.5 445.5V430.5M702.5 444.4V421.3M706.5 454.9V446.9M708.5 456.6V430.9M710.5 443.7V423.3M716.5 450.7V425.2M719.5 430.6V410.1M725.5 406.9V392.5M729.5 429.1V421.7M731.5 430.0V413.1M733.5 408.4V399.2M738.5 421.9V397.2M745.5 460.9V396.5M749.5 454.6V449.5M751.5 454.6V449.7M754.5 476.0V459.1M758.5 463.1V458.4M760.5 476.8V433.6M762.5 468.6V447.7M767.5 414.1V269.0M770.5 427.7V416.6M772.5 427.7V381.6M774.5 397.8V353.0M778.5 401.2V385.7M781.5 389.7V356.0M783.5 426.5V406.2M787.5 390.1V361.4M790.5 443.5V425.2M794.5 413.8V404.0M797.5 413.7V373.5M800.5 412.9V303.6M802.5 418.6V390.7M804.5 426.6V417.7M807.5 408.0V399.0M809.5 403.7V396.1M811.5 396.9V391.6M816.5 414.6V382.4M821.5 458.7V435.2M824.5 426.7V404.9M828.5 423.1V407.3M830.5 413.9V396.7M833.5 404.3V384.8M835.5 404.3V383.2M839.5 421.2V416.5M847.5 409.3V400.8M851.5 410.9V398.0M855.5 386.8V365.9M860.5 371.3V355.9M863.5 421.8V369.5M865.5 421.8V408.8M868.5 414.8V411.8M876.5 484.5V466.8M883.5 362.0V357.0M885.5 362.0V355.0M903.5 448.6V439.5M910.5 457.2V424.9M913.5 440.7V435.0M919.5 459.7V456.7M921.5 460.1V456.3M926.5 446.5V420.5M928.5 456.6V451.1M930.5 441.7V436.7M933.5 445.2V427.4M936.5 440.9V406.8M938.5 421.1V413.6M941.5 430.9V425.8M952.5 416.2V404.7M955.5 421.8V418.7M958.5 426.0V403.6M960.5 443.2V440.1M962.5 436.3V429.5M965.5 437.0V431.5M967.5 437.0V404.5M973.5 433.4V413.7M975.5 434.2V410.5M980.5 425.0V407.3M983.5 430.4V362.0M986.5 441.7V437.6M989.5 448.0V442.2M992.5 440.0V393.0M997.5 448.5V441.6M999.5 448.5V435.9M1002.5 457.4V449.3M1004.5 457.9V432.2M1006.5 445.9V367.0M1008.5 444.9V415.8M1011.5 440.6V436.9M1014.5 421.2V410.8M1018.5 440.0V418.1M1024.5 434.1V424.2M1028.5 434.6V423.2M1033.5 445.1V426.2M1036.5 458.6V446.5M1039.5 450.1V435.9M1042.5 444.3V438.5M1044.5 444.3V441.3M1060.5 435.9V430.7M1067.5 463.1V414.4M1074.5 453.3V446.3M1078.5 444.5V432.5M1084.5 483.3V472.1M1087.5 480.0V470.0M1089.5 490.4V485.0M1091.5 485.9V466.6M1093.5 485.9V482.0M1097.5 516.6V512.9M1101.5 508.8V505.4M1103.5 502.2V474.1M1118.5 498.1V493.8M1120.5 498.1V493.4M1122.5 521.1V512.6M1124.5 511.6V505.6M1127.5 510.8V491.5M1131.5 523.3V513.3M1134.5 496.3V483.1M1137.5 513.2V507.2M1143.5 516.4V505.6M1145.5 514.9V482.8M1147.5 504.9V484.1M1155.5 515.6V508.2M1159.5 502.9V499.2M1163.5 496.1V491.6M1165.5 504.0V500.4M1171.5 498.4V488.3M1177.5 511.3V492.7M1181.5 515.2V507.5M1183.5 515.2V507.8M1187.5 502.8V493.5M1211.5 505.1V497.4M1214.5 496.9V486.8M1216.5 492.1V489.1M1221.5 501.7V493.9M1228.5 488.6V480.0M1234.5 495.6V492.1M1237.5 491.0V485.6M1241.5 487.5V476.4M1244.5 493.1V452.0M1246.5 499.6V485.1M1250.5 507.0V483.3M1254.5 504.4V500.4M1256.5 495.1V490.2M1259.5 504.0V493.9M1262.5 492.7V486.1M1269.5 494.3V480.1M1271.5 503.7V484.3M1273.5 507.8V496.0M1282.5 480.7V473.6M1286.5 496.2V461.5M1289.5 500.6V485.1M1292.5 508.4V501.5M1297.5 503.3V496.9M1299.5 503.3V481.3M1303.5 512.8V499.1M1309.5 496.6V489.0M1311.5 503.4V496.3M1313.5 492.4V467.8M1318.5 501.3V497.0M1322.5 514.4V499.5M1324.5 514.4V497.3M1326.5 496.5V493.1M1330.5 491.8V465.0M1334.5 496.1V489.4" stroke="#3a8fcc" stroke-width="1" fill="none"/>
<path d="M109.5 1095.5V993.0M110.5 1095.5V990.0M111.5 1095.5V991.0M112.5 1095.5V990.0M113.5 1095.5V997.0M114.5 1095.5V1057.3M115.5 1095.5V1056.5M116.5 1095.5V1056.8M117.5 1095.5V1059.9M118.5 1095.5V1052.3M119.5 1095.5V1045.3M120.5 1095.5V1045.3M121.5 1095.5V1058.3M122.5 1095.5V1058.3M123.5 1095.5V1059.7M124.5 1095.5V1068.7M125.5 1095.5V1060.2M126.5 1095.5V1055.8M127.5 1095.5V1056.3M128.5 1095.5V1047.8M129.5 1095.5V1047.8M130.5 1095.5V1047.3M131.5 1095.5V1050.4M132.5 1095.5V1046.2M133.5 1095.5V1046.2M134.5 1095.5V1044.1M135.5 1095.5V1063.0M136.5 1095.5V1055.7M137.5 1095.5V1055.7M138.5 1095.5V1058.3M139.5 1095.5V1056.3M140.5 1095.5V1055.3M141.5 1095.5V1055.3M142.5 1095.5V1043.3M143.5 1095.5V1043.3M144.5 1095.5V1059.0M145.5 1095.5V1055.4M146.5 1095.5V1055.4M147.5 1095.5V1060.2M148.5 1095.5V1051.6M149.5 1095.5V1051.6M150.5 1095.5V1058.6M151.5 1095.5V1059.3M152.5 1095.5V1064.0M153.5 1095.5V1060.9M154.5 1095.5V1055.6M155.5 1095.5V1055.6M156.5 1095.5V1064.2M157.5 1095.5V1061.0M158.5 1095.5V1061.0M159.5 1095.5V1065.1M160.5 1095.5V1065.1M161.5 1095.5V1067.2M162.5 1095.5V1061.0M163.5 1095.5V1053.3M164.5 1095.5V1051.2M165.5 1095.5V1051.2M166.5 1095.5V1048.8M167.5 1095.5V1051.6M168.5 1095.5V1051.6M169.5 1095.5V1054.6M170.5 1095.5V1051.9M171.5 1095.5V1054.4M172.5 1095.5V1054.2M173.5 1095.5V1054.2M174.5 1095.5V1057.2M175.5 1095.5V1061.5M176.5 1095.5V1043.4M177.5 1095.5V1045.7M178.5 1095.5V1060.6M179.5 1095.5V1048.6M180.5 1095.5V1048.6M181.5 1095.5V1061.9M182.5 1095.5V1056.6M183.5 1095.5V1056.4M184.5 1095.5V1056.9M185.5 1095.5V1063.8M186.5 1095.5V1059.0M187.5 1095.5V1059.0M188.5 1095.5V1053.8M189.5 1095.5V1051.1M190.5 1095.5V1045.6M191.5 1095.5V1036.5M192.5 1095.5V1034.4M193.5 1095.5V1033.7M194.5 1095.5V1045.1M195.5 1095.5V1049.2M196.5 1095.5V1055.1M197.5 1095.5V1058.7M198.5 1095.5V1065.7M199.5 1095.5V1065.7M200.5 1095.5V1067.0M201.5 1095.5V1071.0M202.5 1095.5V1073.0M203.5 1095.5V1065.3M204.5 1095.5V1058.2M205.5 1095.5V1058.2M206.5 1095.5V1058.3M207.5 1095.5V1059.0M208.5 1095.5V1059.0M209.5 1095.5V1059.5M210.5 1095.5V1056.9M211.5 1095.5V1052.7M212.5 1095.5V1052.7M213.5 1095.5V1056.5M214.5 1095.5V1042.5M215.5 1095.5V1042.5M216.5 1095.5V1042.5M217.5 1095.5V1046.1M218.5 1095.5V1044.7M219.5 1095.5V1033.5M220.5 1095.5V1033.5M221.5 1095.5V1042.8M222.5 1095.5V1040.8M223.5 1095.5V1048.5M224.5 1095.5V1038.5M225.5 1095.5V1036.2M226.5 1095.5V1064.0M227.5 1095.5V1049.6M228.5 1095.5V1044.2M229.5 1095.5V1044.2M230.5 1095.5V1045.0M231.5 1095.5V1041.9M232.5 1095.5V1044.6M233.5 1095.5V1044.6M234.5 1095.5V1047.6M235.5 1095.5V1036.1M236.5 1095.5V1035.3M237.5 1095.5V1032.4M238.5 1095.5V1031.1M239.5 1095.5V1038.6M240.5 1095.5V1041.0M241.5 1095.5V1041.0M242.5 1095.5V1052.2M243.5 1095.5V1050.9M244.5 1095.5V1068.3M245.5 1095.5V1047.5M246.5 1095.5V1041.5M247.5 1095.5V1041.5M248.5 1095.5V1045.7M249.5 1095.5V1045.7M250.5 1095.5V1046.4M251.5 1095.5V1043.2M252.5 1095.5V1043.2M253.5 1095.5V1051.6M254.5 1095.5V1054.8M255.5 1095.5V1059.1M256.5 1095.5V1057.1M257.5 1095.5V1064.3M258.5 1095.5V1063.5M259.5 1095.5V1063.5M260.5 1095.5V1050.4M261.5 1095.5V1052.4M262.5 1095.5V1054.5M263.5 1095.5V1044.7M264.5 1095.5V1045.6M265.5 1095.5V1051.7M266.5 1095.5V1053.1M267.5 1095.5V1025.3M268.5 1095.5V1025.3M269.5 1095.5V1042.1M270.5 1095.5V1037.2M271.5 1095.5V1037.2M272.5 1095.5V1041.8M273.5 1095.5V1026.2M274.5 1095.5V1025.9M275.5 1095.5V1036.8M276.5 1095.5V1057.6M277.5 1095.5V1050.4M278.5 1095.5V1046.3M279.5 1095.5V1048.8M280.5 1095.5V1045.7M281.5 1095.5V1045.6M282.5 1095.5V1042.5M283.5 1095.5V1044.2M284.5 1095.5V1053.7M285.5 1095.5V1044.5M286.5 1095.5V1045.3M287.5 1095.5V1039.8M288.5 1095.5V1039.8M289.5 1095.5V1049.4M290.5 1095.5V1049.7M291.5 1095.5V1054.4M292.5 1095.5V1052.0M293.5 1095.5V1061.4M294.5 1095.5V1056.1M295.5 1095.5V1057.7M296.5 1095.5V1057.7M297.5 1095.5V1057.9M298.5 1095.5V1047.4M299.5 1095.5V1040.0M300.5 1095.5V1040.0M301.5 1095.5V1050.9M302.5 1095.5V1056.1M303.5 1095.5V1047.8M304.5 1095.5V1047.8M305.5 1095.5V1049.2M306.5 1095.5V1038.6M307.5 1095.5V1038.6M308.5 1095.5V1040.0M309.5 1095.5V1046.9M310.5 1095.5V1051.2M311.5 1095.5V1052.8M312.5 1095.5V1047.4M313.5 1095.5V1036.5M314.5 1095.5V1039.0M315.5 1095.5V1035.1M316.5 1095.5V1035.5M317.5 1095.5V1042.7M318.5 1095.5V1045.0M319.5 1095.5V1059.4M320.5 1095.5V1075.7M321.5 1095.5V1075.4M322.5 1095.5V1075.4M323.5 1095.5V1073.2M324.5 1095.5V1074.3M325.5 1095.5V1067.8M326.5 1095.5V1060.8M327.5 1095.5V1062.1M328.5 1095.5V1059.5M329.5 1095.5V1061.2M330.5 1095.5V1058.7M331.5 1095.5V1060.1M332.5 1095.5V1069.2M333.5 1095.5V1056.3M334.5 1095.5V1055.3M335.5 1095.5V1047.6M336.5 1095.5V1044.4M337.5 1095.5V1037.5M338.5 1095.5V1038.9M339.5 1095.5V1038.9M340.5 1095.5V1039.6M341.5 1095.5V1035.4M342.5 1095.5V1034.1M343.5 1095.5V1036.2M344.5 1095.5V1034.5M345.5 1095.5V1042.6M346.5 1095.5V1051.0M347.5 1095.5V1054.0M348.5 1095.5V1054.5M349.5 1095.5V1054.5M350.5 1095.5V1060.7M351.5 1095.5V1058.0M352.5 1095.5V1058.0M353.5 1095.5V1058.6M354.5 1095.5V1064.6M355.5 1095.5V1062.7M356.5 1095.5V1062.7M357.5 1095.5V1062.1M358.5 1095.5V1062.1M359.5 1095.5V1050.5M360.5 1095.5V1050.5M361.5 1095.5V1059.3M362.5 1095.5V1057.3M363.5 1095.5V1057.4M364.5 1095.5V1064.0M365.5 1095.5V1060.1M366.5 1095.5V1062.9M367.5 1095.5V1059.2M368.5 1095.5V1059.2M369.5 1095.5V1059.2M370.5 1095.5V1059.5M371.5 1095.5V1059.5M372.5 1095.5V1066.2M373.5 1095.5V1058.7M374.5 1095.5V1056.6M375.5 1095.5V1064.4M376.5 1095.5V1062.1M377.5 1095.5V1062.1M378.5 1095.5V1059.4M379.5 1095.5V1058.6M380.5 1095.5V1066.6M381.5 1095.5V1062.9M382.5 1095.5V1062.9M383.5 1095.5V1065.5M384.5 1095.5V1062.0M385.5 1095.5V1056.8M386.5 1095.5V1056.8M387.5 1095.5V1061.2M388.5 1095.5V1051.3M389.5 1095.5V1051.3M390.5 1095.5V1047.7M391.5 1095.5V1049.6M392.5 1095.5V1049.6M393.5 1095.5V1053.0M394.5 1095.5V1056.8M395.5 1095.5V1046.3M396.5 1095.5V1046.3M397.5 1095.5V1043.7M398.5 1095.5V1060.5M399.5 1095.5V1053.0M400.5 1095.5V1052.6M401.5 1095.5V1046.8M402.5 1095.5V1045.3M403.5 1095.5V1045.3M404.5 1095.5V1052.3M405.5 1095.5V1052.6M406.5 1095.5V1050.9M407.5 1095.5V1050.9M408.5 1095.5V1057.9M409.5 1095.5V1057.9M410.5 1095.5V1061.8M411.5 1095.5V1052.9M412.5 1095.5V1050.3M413.5 1095.5V1054.6M414.5 1095.5V1081.3M415.5 1095.5V1063.5M416.5 1095.5V1066.4M417.5 1095.5V1041.0M418.5 1095.5V1041.0M419.5 1095.5V1057.3M420.5 1095.5V1052.3M421.5 1095.5V1049.8M422.5 1095.5V1043.6M423.5 1095.5V1041.2M424.5 1095.5V1052.5M425.5 1095.5V1052.5M426.5 1095.5V1061.2M427.5 1095.5V1065.5M428.5 1095.5V1034.1M429.5 1095.5V1036.7M430.5 1095.5V1052.5M431.5 1095.5V1054.7M432.5 1095.5V1059.7M433.5 1095.5V1066.1M434.5 1095.5V1068.1M435.5 1095.5V1061.9M436.5 1095.5V1061.9M437.5 1095.5V1064.5M438.5 1095.5V1060.8M439.5 1095.5V1058.5M440.5 1095.5V1058.5M441.5 1095.5V1060.7M442.5 1095.5V1065.6M443.5 1095.5V1065.2M444.5 1095.5V1064.7M445.5 1095.5V1064.7M446.5 1095.5V1074.4M447.5 1095.5V1064.3M448.5 1095.5V1063.0M449.5 1095.5V1063.0M450.5 1095.5V1063.0M451.5 1095.5V1064.5M452.5 1095.5V1068.0M453.5 1095.5V1065.4M454.5 1095.5V1059.4M455.5 1095.5V1058.3M456.5 1095.5V1061.7M457.5 1095.5V1067.3M458.5 1095.5V1067.3M459.5 1095.5V1073.1M460.5 1095.5V1066.8M461.5 1095.5V1066.8M462.5 1095.5V1071.8M463.5 1095.5V1068.2M464.5 1095.5V1063.0M465.5 1095.5V1060.2M466.5 1095.5V1060.2M467.5 1095.5V1061.8M468.5 1095.5V1056.9M469.5 1095.5V1056.9M470.5 1095.5V1047.1M471.5 1095.5V1047.1M472.5 1095.5V1040.6M473.5 1095.5V1041.0M474.5 1095.5V1043.8M475.5 1095.5V1044.1M476.5 1095.5V1033.2M477.5 1095.5V1033.2M478.5 1095.5V1064.0M479.5 1095.5V1021.7M480.5 1095.5V1022.3M481.5 1095.5V1016.0M482.5 1095.5V1004.9M483.5 1095.5V1004.9M484.5 1095.5V1004.9M485.5 1095.5V1005.5M486.5 1095.5V1005.5M487.5 1095.5V1009.8M488.5 1095.5V1008.3M489.5 1095.5V1008.3M490.5 1095.5V1013.4M491.5 1095.5V1020.7M492.5 1095.5V1012.2M493.5 1095.5V1013.5M494.5 1095.5V1021.3M495.5 1095.5V1011.9M496.5 1095.5V1010.3M497.5 1095.5V1041.9M498.5 1095.5V1025.9M499.5 1095.5V1025.9M500.5 1095.5V1025.5M501.5 1095.5V1025.5M502.5 1095.5V1014.9M503.5 1095.5V1008.6M504.5 1095.5V1008.6M505.5 1095.5V1008.6M506.5 1095.5V1011.4M507.5 1095.5V1003.3M508.5 1095.5V1001.5M509.5 1095.5V1013.5M510.5 1095.5V1008.9M511.5 1095.5V1008.9M512.5 1095.5V1003.5M513.5 1095.5V1003.5M514.5 1095.5V1000.9M515.5 1095.5V1000.9M516.5 1095.5V1008.9M517.5 1095.5V1010.4M518.5 1095.5V1017.3M519.5 1095.5V1017.3M520.5 1095.5V1033.2M521.5 1095.5V1033.9M522.5 1095.5V1038.3M523.5 1095.5V1040.1M524.5 1095.5V1044.2M525.5 1095.5V1051.2M526.5 1095.5V1051.6M527.5 1095.5V1047.3M528.5 1095.5V1050.1M529.5 1095.5V1055.1M530.5 1095.5V1055.1M531.5 1095.5V1045.3M532.5 1095.5V1045.3M533.5 1095.5V1046.1M534.5 1095.5V1044.0M535.5 1095.5V1044.0M536.5 1095.5V1053.3M537.5 1095.5V1051.9M538.5 1095.5V1049.6M539.5 1095.5V1061.0M540.5 1095.5V1046.4M541.5 1095.5V1040.3M542.5 1095.5V1016.0M543.5 1095.5V996.8M544.5 1095.5V996.8M545.5 1095.5V992.8M546.5 1095.5V992.8M547.5 1095.5V991.3M548.5 1095.5V990.2M549.5 1095.5V1031.2M550.5 1095.5V1045.8M551.5 1095.5V1016.9M552.5 1095.5V996.5M553.5 1095.5V996.0M554.5 1095.5V993.4M555.5 1095.5V990.0M556.5 1095.5V990.0M557.5 1095.5V994.0M558.5 1095.5V992.6M559.5 1095.5V992.6M560.5 1095.5V994.0M561.5 1095.5V991.1M562.5 1095.5V991.1M563.5 1095.5V993.1M564.5 1095.5V965.9M565.5 1095.5V957.3M566.5 1095.5V957.3M567.5 1095.5V944.2M568.5 1095.5V944.1M569.5 1095.5V944.1M570.5 1095.5V956.7M571.5 1095.5V951.3M572.5 1095.5V951.3M573.5 1095.5V956.9M574.5 1095.5V1018.0M575.5 1095.5V944.8M576.5 1095.5V943.9M577.5 1095.5V950.0M578.5 1095.5V950.8M579.5 1095.5V956.7M580.5 1095.5V973.0M581.5 1095.5V941.6M582.5 1095.5V944.5M583.5 1095.5V1015.6M584.5 1095.5V954.5M585.5 1095.5V955.8M586.5 1095.5V959.4M587.5 1095.5V959.2M588.5 1095.5V959.2M589.5 1095.5V953.1M590.5 1095.5V953.1M591.5 1095.5V978.6M592.5 1095.5V985.6M593.5 1095.5V982.5M594.5 1095.5V979.9M595.5 1095.5V984.1M596.5 1095.5V983.7M597.5 1095.5V983.9M598.5 1095.5V947.9M599.5 1095.5V935.1M600.5 1095.5V933.8M601.5 1095.5V925.9M602.5 1095.5V925.9M603.5 1095.5V932.5M604.5 1095.5V964.4M605.5 1095.5V931.5M606.5 1095.5V931.5M607.5 1095.5V1012.9M608.5 1095.5V1031.7M609.5 1095.5V936.5M610.5 1095.5V931.2M611.5 1095.5V931.2M612.5 1095.5V941.6M613.5 1095.5V945.1M614.5 1095.5V929.9M615.5 1095.5V922.9M616.5 1095.5V840.0M617.5 1095.5V840.0M618.5 1095.5V939.2M619.5 1095.5V939.2M620.5 1095.5V942.9M621.5 1095.5V951.9M622.5 1095.5V948.4M623.5 1095.5V947.7M624.5 1095.5V951.2M625.5 1095.5V1014.4M626.5 1095.5V1009.5M627.5 1095.5V955.2M628.5 1095.5V955.2M629.5 1095.5V956.0M630.5 1095.5V957.8M631.5 1095.5V953.8M632.5 1095.5V952.7M633.5 1095.5V1069.0M634.5 1095.5V1069.0M635.5 1095.5V935.5M636.5 1095.5V934.6M637.5 1095.5V934.6M638.5 1095.5V957.6M639.5 1095.5V939.1M640.5 1095.5V936.1M641.5 1095.5V933.7M642.5 1095.5V951.4M643.5 1095.5V951.4M644.5 1095.5V951.9M645.5 1095.5V944.0M646.5 1095.5V944.0M647.5 1095.5V950.9M648.5 1095.5V936.6M649.5 1095.5V931.7M650.5 1095.5V931.7M651.5 1095.5V934.7M652.5 1095.5V918.0M653.5 1095.5V916.2M654.5 1095.5V925.8M655.5 1095.5V917.4M656.5 1095.5V917.4M657.5 1095.5V925.3M658.5 1095.5V925.3M659.5 1095.5V947.6M660.5 1095.5V935.7M661.5 1095.5V935.7M662.5 1095.5V937.1M663.5 1095.5V937.1M664.5 1095.5V945.0M665.5 1095.5V943.7M666.5 1095.5V943.7M667.5 1095.5V940.8M668.5 1095.5V940.8M669.5 1095.5V942.4M670.5 1095.5V941.0M671.5 1095.5V941.0M672.5 1095.5V939.3M673.5 1095.5V939.3M674.5 1095.5V937.1M675.5 1095.5V937.1M676.5 1095.5V942.9M677.5 1095.5V997.7M678.5 1095.5V958.7M679.5 1095.5V958.7M680.5 1095.5V954.2M681.5 1095.5V947.4M682.5 1095.5V947.4M683.5 1095.5V945.7M684.5 1095.5V945.7M685.5 1095.5V957.9M686.5 1095.5V943.4M687.5 1095.5V943.4M688.5 1095.5V948.7M689.5 1095.5V938.6M690.5 1095.5V937.2M691.5 1095.5V929.8M692.5 1095.5V929.8M693.5 1095.5V932.9M694.5 1095.5V945.4M695.5 1095.5V951.8M696.5 1095.5V942.2M697.5 1095.5V938.7M698.5 1095.5V938.7M699.5 1095.5V941.0M700.5 1095.5V942.7M701.5 1095.5V957.6M702.5 1095.5V953.5M703.5 1095.5V930.9M704.5 1095.5V930.9M705.5 1095.5V931.1M706.5 1095.5V930.1M707.5 1095.5V942.6M708.5 1095.5V949.7M709.5 1095.5V1002.8M710.5 1095.5V932.3M711.5 1095.5V932.3M712.5 1095.5V943.0M713.5 1095.5V955.4M714.5 1095.5V946.8M715.5 1095.5V938.8M716.5 1095.5V931.3M717.5 1095.5V931.4M718.5 1095.5V937.5M719.5 1095.5V935.7M720.5 1095.5V935.7M721.5 1095.5V941.3M722.5 1095.5V939.0M723.5 1095.5V948.3M724.5 1095.5V942.5M725.5 1095.5V942.5M726.5 1095.5V955.9M727.5 1095.5V955.9M728.5 1095.5V983.7M729.5 1095.5V951.9M730.5 1095.5V945.9M731.5 1095.5V944.5M732.5 1095.5V944.5M733.5 1095.5V945.4M734.5 1095.5V940.6M735.5 1095.5V940.6M736.5 1095.5V998.8M737.5 1095.5V928.9M738.5 1095.5V928.9M739.5 1095.5V924.6M740.5 1095.5V924.6M741.5 1095.5V938.2M742.5 1095.5V938.2M743.5 1095.5V988.4M744.5 1095.5V921.6M745.5 1095.5V918.7M746.5 1095.5V913.6M747.5 1095.5V916.6M748.5 1095.5V919.0M749.5 1095.5V919.1M750.5 1095.5V940.2M751.5 1095.5V940.2M752.5 1095.5V943.3M753.5 1095.5V919.0M754.5 1095.5V919.0M755.5 1095.5V940.0M756.5 1095.5V940.0M757.5 1095.5V969.2M758.5 1095.5V1016.2M759.5 1095.5V953.7M760.5 1095.5V953.7M761.5 1095.5V929.1M762.5 1095.5V929.1M763.5 1095.5V957.6M764.5 1095.5V957.6M765.5 1095.5V997.0M766.5 1095.5V924.9M767.5 1095.5V924.9M768.5 1095.5V908.2M769.5 1095.5V895.9M770.5 1095.5V895.9M771.5 1095.5V899.7M772.5 1095.5V894.9M773.5 1095.5V894.9M774.5 1095.5V888.0M775.5 1095.5V871.7M776.5 1095.5V860.8M777.5 1095.5V860.8M778.5 1095.5V873.7M779.5 1095.5V861.2M780.5 1095.5V858.5M781.5 1095.5V858.1M782.5 1095.5V857.6M783.5 1095.5V857.6M784.5 1095.5V863.8M785.5 1095.5V858.4M786.5 1095.5V858.4M787.5 1095.5V863.1M788.5 1095.5V863.1M789.5 1095.5V877.5M790.5 1095.5V866.6M791.5 1095.5V839.9M792.5 1095.5V839.9M793.5 1095.5V869.4M794.5 1095.5V869.8M795.5 1095.5V878.9M796.5 1095.5V870.9M797.5 1095.5V870.9M798.5 1095.5V855.2M799.5 1095.5V852.3M800.5 1095.5V876.3M801.5 1095.5V898.1M802.5 1095.5V903.7M803.5 1095.5V903.7M804.5 1095.5V909.1M805.5 1095.5V893.7M806.5 1095.5V890.0M807.5 1095.5V890.0M808.5 1095.5V913.1M809.5 1095.5V919.0M810.5 1095.5V934.9M811.5 1095.5V934.9M812.5 1095.5V980.5M813.5 1095.5V929.2M814.5 1095.5V929.2M815.5 1095.5V940.1M816.5 1095.5V914.2M817.5 1095.5V896.4M818.5 1095.5V896.4M819.5 1095.5V985.5M820.5 1095.5V874.8M821.5 1095.5V874.8M822.5 1095.5V894.3M823.5 1095.5V902.8M824.5 1095.5V912.5M825.5 1095.5V887.5M826.5 1095.5V887.5M827.5 1095.5V880.8M828.5 1095.5V880.8M829.5 1095.5V974.8M830.5 1095.5V912.8M831.5 1095.5V896.8M832.5 1095.5V896.8M833.5 1095.5V881.2M834.5 1095.5V860.6M835.5 1095.5V860.6M836.5 1095.5V874.7M837.5 1095.5V846.8M838.5 1095.5V846.8M839.5 1095.5V846.8M840.5 1095.5V987.4M841.5 1095.5V847.6M842.5 1095.5V847.6M843.5 1095.5V871.0M844.5 1095.5V871.0M845.5 1095.5V898.8M846.5 1095.5V898.8M847.5 1095.5V916.1M848.5 1095.5V916.4M849.5 1095.5V876.5M850.5 1095.5V876.5M851.5 1095.5V893.3M852.5 1095.5V894.8M853.5 1095.5V858.8M854.5 1095.5V858.8M855.5 1095.5V858.8M856.5 1095.5V899.5M857.5 1095.5V880.8M858.5 1095.5V880.8M859.5 1095.5V884.0M860.5 1095.5V840.9M861.5 1095.5V840.9M862.5 1095.5V856.8M863.5 1095.5V866.2M864.5 1095.5V866.2M865.5 1095.5V885.4M866.5 1095.5V885.4M867.5 1095.5V933.3M868.5 1095.5V926.1M869.5 1095.5V926.1M870.5 1095.5V993.3M871.5 1095.5V877.4M872.5 1095.5V837.3M873.5 1095.5V837.3M874.5 1095.5V875.3M875.5 1095.5V867.3M876.5 1095.5V867.3M877.5 1095.5V877.2M878.5 1095.5V877.2M879.5 1095.5V890.4M880.5 1095.5V900.0M881.5 1095.5V882.9M882.5 1095.5V882.9M883.5 1095.5V860.0M884.5 1095.5V720.0M885.5 1095.5V720.0M886.5 1095.5V843.0M887.5 1095.5V850.0M888.5 1095.5V897.4M889.5 1095.5V896.6M890.5 1095.5V896.6M891.5 1095.5V896.6M892.5 1095.5V903.7M893.5 1095.5V880.0M894.5 1095.5V880.0M895.5 1095.5V900.0M896.5 1095.5V900.0M897.5 1095.5V941.3M898.5 1095.5V992.9M899.5 1095.5V979.5M900.5 1095.5V979.5M901.5 1095.5V1014.7M902.5 1095.5V991.8M903.5 1095.5V985.2M904.5 1095.5V965.7M905.5 1095.5V920.5M906.5 1095.5V920.1M907.5 1095.5V918.1M908.5 1095.5V921.1M909.5 1095.5V916.4M910.5 1095.5V916.4M911.5 1095.5V915.4M912.5 1095.5V1001.7M913.5 1095.5V913.8M914.5 1095.5V911.1M915.5 1095.5V917.4M916.5 1095.5V916.0M917.5 1095.5V917.7M918.5 1095.5V923.3M919.5 1095.5V918.9M920.5 1095.5V910.4M921.5 1095.5V903.3M922.5 1095.5V899.6M923.5 1095.5V895.5M924.5 1095.5V895.5M925.5 1095.5V900.2M926.5 1095.5V901.2M927.5 1095.5V895.8M928.5 1095.5V896.7M929.5 1095.5V904.4M930.5 1095.5V901.7M931.5 1095.5V901.7M932.5 1095.5V901.7M933.5 1095.5V951.9M934.5 1095.5V897.1M935.5 1095.5V895.9M936.5 1095.5V896.4M937.5 1095.5V886.2M938.5 1095.5V886.2M939.5 1095.5V895.1M940.5 1095.5V916.7M941.5 1095.5V916.7M942.5 1095.5V923.0M943.5 1095.5V968.5M944.5 1095.5V910.3M945.5 1095.5V906.0M946.5 1095.5V906.0M947.5 1095.5V906.0M948.5 1095.5V926.2M949.5 1095.5V926.2M950.5 1095.5V960.1M951.5 1095.5V1016.0M952.5 1095.5V968.5M953.5 1095.5V968.5M954.5 1095.5V999.2M955.5 1095.5V979.2M956.5 1095.5V979.2M957.5 1095.5V1004.6M958.5 1095.5V1065.3M959.5 1095.5V1031.6M960.5 1095.5V1031.6M961.5 1095.5V1037.1M962.5 1095.5V1060.5M963.5 1095.5V1025.8M964.5 1095.5V1025.8M965.5 1095.5V1033.8M966.5 1095.5V1031.9M967.5 1095.5V988.3M968.5 1095.5V988.3M969.5 1095.5V988.3M970.5 1095.5V994.0M971.5 1095.5V1023.6M972.5 1095.5V1068.0M973.5 1095.5V1068.0M974.5 1095.5V1068.0M975.5 1095.5V1068.0M976.5 1095.5V990.9M977.5 1095.5V988.7M978.5 1095.5V988.7M979.5 1095.5V981.9M980.5 1095.5V981.9M981.5 1095.5V981.9M982.5 1095.5V991.3M983.5 1095.5V991.3M984.5 1095.5V996.7M985.5 1095.5V996.7M986.5 1095.5V998.3M987.5 1095.5V1001.1M988.5 1095.5V1010.3M989.5 1095.5V1006.2M990.5 1095.5V1003.4M991.5 1095.5V1003.4M992.5 1095.5V1034.1M993.5 1095.5V1004.8M994.5 1095.5V1001.1M995.5 1095.5V1001.1M996.5 1095.5V983.9M997.5 1095.5V983.9M998.5 1095.5V990.0M999.5 1095.5V991.0M1000.5 1095.5V1015.4M1001.5 1095.5V1000.5M1002.5 1095.5V995.2M1003.5 1095.5V995.2M1004.5 1095.5V1005.7M1005.5 1095.5V1005.7M1006.5 1095.5V1015.3M1007.5 1095.5V1005.0M1008.5 1095.5V1003.5M1009.5 1095.5V1003.8M1010.5 1095.5V1003.8M1011.5 1095.5V1014.2M1012.5 1095.5V1003.2M1013.5 1095.5V1003.2M1014.5 1095.5V1001.2M1015.5 1095.5V1036.9M1016.5 1095.5V1019.1M1017.5 1095.5V1019.1M1018.5 1095.5V1017.8M1019.5 1095.5V1030.2M1020.5 1095.5V1009.7M1021.5 1095.5V1009.7M1022.5 1095.5V1023.2M1023.5 1095.5V1024.9M1024.5 1095.5V1024.9M1025.5 1095.5V1028.2M1026.5 1095.5V1029.2M1027.5 1095.5V1080.0M1028.5 1095.5V1080.0M1029.5 1095.5V1080.0M1030.5 1095.5V1002.4M1031.5 1095.5V1002.4M1032.5 1095.5V997.4M1033.5 1095.5V973.6M1034.5 1095.5V971.9M1035.5 1095.5V981.0M1036.5 1095.5V981.0M1037.5 1095.5V990.9M1038.5 1095.5V994.4M1039.5 1095.5V983.8M1040.5 1095.5V983.8M1041.5 1095.5V1001.1M1042.5 1095.5V977.0M1043.5 1095.5V967.4M1044.5 1095.5V967.4M1045.5 1095.5V986.1M1046.5 1095.5V989.6M1047.5 1095.5V989.3M1048.5 1095.5V987.8M1049.5 1095.5V987.8M1050.5 1095.5V1001.5M1051.5 1095.5V1001.5M1052.5 1095.5V1017.3M1053.5 1095.5V1007.4M1054.5 1095.5V1007.4M1055.5 1095.5V925.0M1056.5 1095.5V925.0M1057.5 1095.5V1060.0M1058.5 1095.5V1060.0M1059.5 1095.5V1060.0M1060.5 1095.5V1060.0M1061.5 1095.5V1060.0M1062.5 1095.5V1060.0M1063.5 1095.5V1020.7M1064.5 1095.5V1020.7M1065.5 1095.5V1043.9M1066.5 1095.5V1080.0M1067.5 1095.5V1080.0M1068.5 1095.5V1080.0M1069.5 1095.5V1075.0M1070.5 1095.5V1075.0M1071.5 1095.5V1075.0M1072.5 1095.5V1075.0M1073.5 1095.5V1048.6M1074.5 1095.5V1028.6M1075.5 1095.5V1015.0M1076.5 1095.5V1015.0M1077.5 1095.5V1050.9M1078.5 1095.5V1016.3M1079.5 1095.5V1016.3M1080.5 1095.5V1018.6M1081.5 1095.5V1009.8M1082.5 1095.5V1002.1M1083.5 1095.5V995.3M1084.5 1095.5V995.3M1085.5 1095.5V990.0M1086.5 1095.5V990.0M1087.5 1095.5V982.0M1088.5 1095.5V980.0M1089.5 1095.5V1026.1M1090.5 1095.5V1042.2M1091.5 1095.5V1082.4M1092.5 1095.5V1080.5M1093.5 1095.5V1082.1M1094.5 1095.5V1079.2M1095.5 1095.5V1081.6M1096.5 1095.5V1081.3M1097.5 1095.5V1068.6M1098.5 1095.5V1068.6M1099.5 1095.5V1069.5M1100.5 1095.5V1061.5M1101.5 1095.5V1057.7M1102.5 1095.5V1057.7M1103.5 1095.5V1070.1M1104.5 1095.5V1058.5M1105.5 1095.5V1047.2M1106.5 1095.5V1047.2M1107.5 1095.5V1051.8M1108.5 1095.5V1053.4M1109.5 1095.5V1055.8M1110.5 1095.5V1060.7M1111.5 1095.5V1060.3M1112.5 1095.5V1060.3M1113.5 1095.5V1094.0M1114.5 1095.5V1094.0M1115.5 1095.5V1075.9M1116.5 1095.5V1074.7M1117.5 1095.5V1081.7M1118.5 1095.5V1076.5M1119.5 1095.5V1076.5M1120.5 1095.5V1076.5M1121.5 1095.5V1080.4M1122.5 1095.5V1073.9M1123.5 1095.5V1073.9M1124.5 1095.5V1076.1M1125.5 1095.5V1075.1M1126.5 1095.5V1075.1M1127.5 1095.5V1080.0M1128.5 1095.5V1080.0M1129.5 1095.5V1094.0M1130.5 1095.5V1094.0M1131.5 1095.5V1094.0M1132.5 1095.5V1094.0M1133.5 1095.5V1094.0M1134.5 1095.5V1094.0M1135.5 1095.5V1064.1M1136.5 1095.5V1062.0M1137.5 1095.5V1058.8M1138.5 1095.5V1058.8M1139.5 1095.5V1060.1M1140.5 1095.5V1053.8M1141.5 1095.5V1053.5M1142.5 1095.5V1044.1M1143.5 1095.5V1039.0M1144.5 1095.5V1039.0M1145.5 1095.5V1040.6M1146.5 1095.5V1053.4M1147.5 1095.5V1046.2M1148.5 1095.5V1046.2M1149.5 1095.5V1033.7M1150.5 1095.5V1035.6M1151.5 1095.5V1052.5M1152.5 1095.5V1052.5M1153.5 1095.5V1067.4M1154.5 1095.5V1059.7M1155.5 1095.5V1045.5M1156.5 1095.5V1045.5M1157.5 1095.5V1053.6M1158.5 1095.5V1058.8M1159.5 1095.5V1056.2M1160.5 1095.5V1041.6M1161.5 1095.5V1041.6M1162.5 1095.5V1052.6M1163.5 1095.5V1038.1M1164.5 1095.5V1038.1M1165.5 1095.5V1041.4M1166.5 1095.5V1050.3M1167.5 1095.5V1047.6M1168.5 1095.5V1050.3M1169.5 1095.5V1043.3M1170.5 1095.5V1043.3M1171.5 1095.5V1051.4M1172.5 1095.5V1045.9M1173.5 1095.5V1033.5M1174.5 1095.5V1033.5M1175.5 1095.5V1049.8M1176.5 1095.5V1051.5M1177.5 1095.5V1055.9M1178.5 1095.5V1052.4M1179.5 1095.5V1052.4M1180.5 1095.5V1043.9M1181.5 1095.5V1042.4M1182.5 1095.5V1039.7M1183.5 1095.5V1064.6M1184.5 1095.5V1064.6M1185.5 1095.5V1069.1M1186.5 1095.5V1061.2M1187.5 1095.5V1062.7M1188.5 1095.5V1077.2M1189.5 1095.5V1066.6M1190.5 1095.5V1058.5M1191.5 1095.5V1055.5M1192.5 1095.5V1063.4M1193.5 1095.5V1060.5M1194.5 1095.5V1061.7M1195.5 1095.5V1067.4M1196.5 1095.5V1033.4M1197.5 1095.5V1034.2M1198.5 1095.5V1031.4M1199.5 1095.5V1032.5M1200.5 1095.5V1032.5M1201.5 1095.5V1034.0M1202.5 1095.5V1033.6M1203.5 1095.5V1035.5M1204.5 1095.5V1043.7M1205.5 1095.5V1043.2M1206.5 1095.5V1043.2M1207.5 1095.5V1032.1M1208.5 1095.5V1032.3M1209.5 1095.5V1038.0M1210.5 1095.5V1044.9M1211.5 1095.5V1061.4M1212.5 1095.5V1062.9M1213.5 1095.5V1062.8M1214.5 1095.5V1059.9M1215.5 1095.5V1043.9M1216.5 1095.5V1035.8M1217.5 1095.5V1035.8M1218.5 1095.5V1038.1M1219.5 1095.5V1038.1M1220.5 1095.5V1041.3M1221.5 1095.5V1039.3M1222.5 1095.5V1039.3M1223.5 1095.5V1047.3M1224.5 1095.5V1042.5M1225.5 1095.5V1042.5M1226.5 1095.5V1042.5M1227.5 1095.5V1051.8M1228.5 1095.5V1051.8M1229.5 1095.5V1054.3M1230.5 1095.5V1048.4M1231.5 1095.5V1048.4M1232.5 1095.5V1073.0M1233.5 1095.5V1042.4M1234.5 1095.5V1042.4M1235.5 1095.5V1043.0M1236.5 1095.5V1000.0M1237.5 1095.5V1000.0M1238.5 1095.5V1034.6M1239.5 1095.5V1035.5M1240.5 1095.5V1043.1M1241.5 1095.5V1069.9M1242.5 1095.5V1068.1M1243.5 1095.5V1067.8M1244.5 1095.5V1067.8M1245.5 1095.5V1070.1M1246.5 1095.5V1069.8M1247.5 1095.5V1066.1M1248.5 1095.5V1061.5M1249.5 1095.5V1061.5M1250.5 1095.5V1061.6M1251.5 1095.5V1059.4M1252.5 1095.5V1069.6M1253.5 1095.5V1045.3M1254.5 1095.5V1022.9M1255.5 1095.5V1021.0M1256.5 1095.5V1025.0M1257.5 1095.5V1028.8M1258.5 1095.5V1024.5M1259.5 1095.5V1024.5M1260.5 1095.5V1024.5M1261.5 1095.5V1031.4M1262.5 1095.5V1026.0M1263.5 1095.5V1027.1M1264.5 1095.5V1039.5M1265.5 1095.5V1070.9M1266.5 1095.5V1075.0M1267.5 1095.5V1075.2M1268.5 1095.5V1050.1M1269.5 1095.5V1041.4M1270.5 1095.5V1039.1M1271.5 1095.5V1037.2M1272.5 1095.5V1037.2M1273.5 1095.5V1037.2M1274.5 1095.5V1064.1M1275.5 1095.5V1094.0M1276.5 1095.5V1094.0M1277.5 1095.5V1094.0M1278.5 1095.5V1094.0M1279.5 1095.5V1066.5M1280.5 1095.5V1066.3M1281.5 1095.5V1067.9M1282.5 1095.5V1077.0M1283.5 1095.5V1071.8M1284.5 1095.5V1064.5M1285.5 1095.5V1067.0M1286.5 1095.5V1066.9M1287.5 1095.5V1066.9M1288.5 1095.5V1079.8M1289.5 1095.5V1094.0M1290.5 1095.5V1094.0M1291.5 1095.5V1094.0M1292.5 1095.5V1094.0M1293.5 1095.5V1094.0M1294.5 1095.5V1094.0M1295.5 1095.5V1094.0M1296.5 1095.5V1094.0M1297.5 1095.5V1094.0M1298.5 1095.5V1094.0M1299.5 1095.5V1094.0M1300.5 1095.5V1094.0M1301.5 1095.5V1094.0M1302.5 1095.5V1094.0M1303.5 1095.5V1094.0M1304.5 1095.5V1094.0M1305.5 1095.5V1094.0M1306.5 1095.5V1094.0M1307.5 1095.5V1078.5M1308.5 1095.5V1078.5M1309.5 1095.5V1094.0M1310.5 1095.5V1064.6M1311.5 1095.5V1067.0M1312.5 1095.5V1064.2M1313.5 1095.5V1074.6M1314.5 1095.5V1065.8M1315.5 1095.5V1066.3M1316.5 1095.5V1072.2M1317.5 1095.5V1066.1M1318.5 1095.5V1065.9M1319.5 1095.5V1066.0" stroke="#0072bd" stroke-width="1" fill="none"/>
<path d="M119.5 1045.3V1039.5M122.5 1058.3V1036.4M128.5 1047.8V1033.3M132.5 1046.2V1027.6M136.5 1055.7V1035.5M140.5 1055.3V1045.8M142.5 1043.3V1035.4M145.5 1055.4V1050.4M148.5 1051.6V1048.5M154.5 1055.6V1043.4M158.5 1061.0V1055.6M160.5 1065.1V1059.3M164.5 1051.2V1039.0M168.5 1051.6V1048.3M173.5 1054.2V1049.0M180.5 1048.6V1033.1M186.5 1059.0V1043.4M199.5 1065.7V1055.8M205.5 1058.2V1030.4M208.5 1059.0V1044.6M211.5 1052.7V1043.3M214.5 1042.5V1036.5M216.5 1042.5V1036.9M220.5 1033.5V1025.6M229.5 1044.2V1020.6M233.5 1044.6V1037.3M241.5 1041.0V1031.2M246.5 1041.5V1032.2M249.5 1045.7V1041.2M252.5 1043.2V1035.2M258.5 1063.5V1053.7M268.5 1025.3V1020.6M270.5 1037.2V1033.4M287.5 1039.8V1034.1M296.5 1057.7V1048.2M299.5 1040.0V1032.3M303.5 1047.8V1026.0M306.5 1038.6V1020.6M321.5 1075.4V1069.8M339.5 1038.9V1035.6M349.5 1054.5V1049.0M351.5 1058.0V1054.4M355.5 1062.7V1045.4M357.5 1062.1V1049.1M359.5 1050.5V1039.2M367.5 1059.2V1052.6M369.5 1059.2V1056.1M371.5 1059.5V1040.9M376.5 1062.1V1058.5M381.5 1062.9V1040.4M385.5 1056.8V1047.8M388.5 1051.3V1038.9M392.5 1049.6V1037.2M395.5 1046.3V1037.3M403.5 1045.3V1041.9M407.5 1050.9V1037.9M409.5 1057.9V1045.8M417.5 1041.0V1036.5M425.5 1052.5V1048.6M435.5 1061.9V1046.0M440.5 1058.5V1016.0M444.5 1064.7V1049.1M448.5 1063.0V1056.2M450.5 1063.0V1028.0M458.5 1067.3V1058.0M460.5 1066.8V1046.1M465.5 1060.2V1057.0M468.5 1056.9V1051.1M470.5 1047.1V1042.3M477.5 1033.2V1024.6M482.5 1004.9V1001.1M484.5 1004.9V998.1M486.5 1005.5V1001.9M489.5 1008.3V980.0M498.5 1025.9V1021.9M500.5 1025.5V1017.4M503.5 1008.6V1005.4M505.5 1008.6V997.6M510.5 1008.9V995.3M512.5 1003.5V994.0M514.5 1000.9V975.0M519.5 1017.3V1004.3M531.5 1045.3V1037.6M535.5 1044.0V1032.1M543.5 996.8V984.3M545.5 992.8V981.3M555.5 990.0V986.6M558.5 992.6V986.5M561.5 991.1V984.7M565.5 957.3V949.2M572.5 951.3V941.2M587.5 959.2V951.6M589.5 953.1V933.0M602.5 925.9V907.8M605.5 931.5V922.4M610.5 931.2V917.7M616.5 840.0V833.5M619.5 939.2V932.4M627.5 955.2V945.7M636.5 934.6V912.2M643.5 951.4V941.8M645.5 944.0V928.8M650.5 931.7V900.2M655.5 917.4V913.3M658.5 925.3V911.2M660.5 935.7V914.9M663.5 937.1V932.4M665.5 943.7V931.3M667.5 940.8V926.4M670.5 941.0V917.5M672.5 939.3V934.7M674.5 937.1V916.5M678.5 958.7V955.0M681.5 947.4V939.4M684.5 945.7V913.7M687.5 943.4V935.3M692.5 929.8V898.8M698.5 938.7V912.1M704.5 930.9V911.2M711.5 932.3V918.8M720.5 935.7V932.5M725.5 942.5V931.7M727.5 955.9V952.6M731.5 944.5V940.4M734.5 940.6V937.2M737.5 928.9V904.3M739.5 924.6V920.4M742.5 938.2V925.0M751.5 940.2V933.8M754.5 919.0V911.3M756.5 940.0V929.6M759.5 953.7V930.8M761.5 929.1V896.4M764.5 957.6V945.0M766.5 924.9V905.7M769.5 895.9V823.0M772.5 894.9V888.6M776.5 860.8V850.1M783.5 857.6V829.0M785.5 858.4V850.3M788.5 863.1V836.5M791.5 839.9V831.2M796.5 870.9V866.7M803.5 903.7V899.0M807.5 890.0V791.0M811.5 934.9V918.7M814.5 929.2V922.9M817.5 896.4V863.2M821.5 874.8V761.0M825.5 887.5V864.5M827.5 880.8V772.5M831.5 896.8V810.9M834.5 860.6V828.4M837.5 846.8V841.5M839.5 846.8V814.4M842.5 847.6V822.7M844.5 871.0V830.1M846.5 898.8V839.9M849.5 876.5V827.1M853.5 858.8V795.7M855.5 858.8V849.1M857.5 880.8V861.9M860.5 840.9V837.3M864.5 866.2V777.0M866.5 885.4V831.9M868.5 926.1V827.2M872.5 837.3V798.2M875.5 867.3V768.0M878.5 877.2V741.5M881.5 882.9V864.7M884.5 720.0V714.0M889.5 896.6V870.0M891.5 896.6V860.0M894.5 880.0V867.5M896.5 900.0V889.8M900.5 979.5V971.4M909.5 916.4V911.4M923.5 895.5V883.3M930.5 901.7V867.0M932.5 901.7V896.6M937.5 886.2V876.4M941.5 916.7V896.0M945.5 906.0V852.0M947.5 906.0V896.1M949.5 926.2V921.0M953.5 968.5V956.0M955.5 979.2V964.6M960.5 1031.6V963.8M964.5 1025.8V961.7M967.5 988.3V970.5M969.5 988.3V970.6M974.5 1068.0V925.7M977.5 988.7V981.0M979.5 981.9V974.9M981.5 981.9V977.0M983.5 991.3V979.0M985.5 996.7V983.8M991.5 1003.4V984.5M994.5 1001.1V993.9M996.5 983.9V978.3M1003.5 995.2V984.0M1005.5 1005.7V984.1M1010.5 1003.8V948.7M1012.5 1003.2V975.8M1016.5 1019.1V1011.8M1021.5 1009.7V995.1M1024.5 1024.9V953.2M1030.5 1002.4V956.9M1036.5 981.0V962.1M1039.5 983.8V979.9M1044.5 967.4V952.0M1048.5 987.8V948.2M1051.5 1001.5V996.6M1053.5 1007.4V995.1M1055.5 925.0V918.8M1063.5 1020.7V985.2M1069.5 1075.0V1050.4M1075.5 1015.0V1007.1M1078.5 1016.3V1003.4M1083.5 995.3V989.6M1085.5 990.0V976.5M1098.5 1068.6V1061.3M1102.5 1057.7V1051.7M1105.5 1047.2V1034.5M1111.5 1060.3V1051.5M1118.5 1076.5V1073.4M1120.5 1076.5V1072.7M1122.5 1073.9V1032.0M1125.5 1075.1V1071.2M1128.5 1080.0V1073.1M1138.5 1058.8V1042.3M1143.5 1039.0V1032.8M1147.5 1046.2V1042.4M1152.5 1052.5V1041.8M1155.5 1045.5V1037.8M1160.5 1041.6V1035.7M1164.5 1038.1V1034.2M1169.5 1043.3V1032.8M1173.5 1033.5V1010.0M1178.5 1052.4V1024.8M1184.5 1064.6V1054.3M1200.5 1032.5V1010.6M1205.5 1043.2V1015.6M1216.5 1035.8V1029.5M1219.5 1038.1V1034.6M1221.5 1039.3V1035.6M1224.5 1042.5V1027.2M1226.5 1042.5V1039.4M1228.5 1051.8V1022.9M1231.5 1048.4V1020.8M1233.5 1042.4V1036.8M1236.5 1000.0V990.6M1244.5 1067.8V1026.5M1248.5 1061.5V1052.8M1258.5 1024.5V1017.5M1260.5 1024.5V1016.6M1271.5 1037.2V1030.3M1273.5 1037.2V1033.8M1286.5 1066.9V1037.0M1297.5 1094.0V1078.3M1300.5 1094.0V1081.4M1307.5 1078.5V1058.0" stroke="#3a8fcc" stroke-width="1" fill="none"/>
<path d="M109.5 1690.2V1652.2M110.5 1690.2V1652.2M111.5 1690.2V1663.9M112.5 1690.2V1648.4M113.5 1690.2V1648.4M114.5 1690.2V1647.6M115.5 1690.2V1647.6M116.5 1690.2V1661.3M117.5 1690.2V1649.7M118.5 1690.2V1629.9M119.5 1690.2V1629.9M120.5 1690.2V1650.1M121.5 1690.2V1642.7M122.5 1690.2V1598.3M123.5 1690.2V1598.3M124.5 1690.2V1598.7M125.5 1690.2V1640.8M126.5 1690.2V1654.8M127.5 1690.2V1656.4M128.5 1690.2V1654.3M129.5 1690.2V1657.3M130.5 1690.2V1657.3M131.5 1690.2V1659.4M132.5 1690.2V1656.1M133.5 1690.2V1656.1M134.5 1690.2V1653.8M135.5 1690.2V1653.8M136.5 1690.2V1673.8M137.5 1690.2V1671.3M138.5 1690.2V1642.6M139.5 1690.2V1642.6M140.5 1690.2V1655.9M141.5 1690.2V1655.4M142.5 1690.2V1655.4M143.5 1690.2V1666.1M144.5 1690.2V1664.2M145.5 1690.2V1664.2M146.5 1690.2V1670.2M147.5 1690.2V1655.7M148.5 1690.2V1655.7M149.5 1690.2V1658.0M150.5 1690.2V1627.8M151.5 1690.2V1627.8M152.5 1690.2V1628.1M153.5 1690.2V1646.5M154.5 1690.2V1646.5M155.5 1690.2V1646.8M156.5 1690.2V1688.7M157.5 1690.2V1667.3M158.5 1690.2V1670.0M159.5 1690.2V1645.0M160.5 1690.2V1647.7M161.5 1690.2V1644.7M162.5 1690.2V1645.1M163.5 1690.2V1648.2M164.5 1690.2V1659.6M165.5 1690.2V1659.6M166.5 1690.2V1669.3M167.5 1690.2V1660.2M168.5 1690.2V1659.5M169.5 1690.2V1659.5M170.5 1690.2V1649.4M171.5 1690.2V1652.2M172.5 1690.2V1650.5M173.5 1690.2V1669.1M174.5 1690.2V1658.3M175.5 1690.2V1658.8M176.5 1690.2V1656.5M177.5 1690.2V1678.9M178.5 1690.2V1670.4M179.5 1690.2V1670.4M180.5 1690.2V1667.2M181.5 1690.2V1667.2M182.5 1690.2V1653.2M183.5 1690.2V1652.9M184.5 1690.2V1664.4M185.5 1690.2V1664.4M186.5 1690.2V1667.1M187.5 1690.2V1670.2M188.5 1690.2V1679.8M189.5 1690.2V1681.9M190.5 1690.2V1681.9M191.5 1690.2V1682.1M192.5 1690.2V1663.6M193.5 1690.2V1663.6M194.5 1690.2V1657.2M195.5 1690.2V1657.2M196.5 1690.2V1667.2M197.5 1690.2V1672.6M198.5 1690.2V1676.5M199.5 1690.2V1654.9M200.5 1690.2V1654.3M201.5 1690.2V1654.3M202.5 1690.2V1657.7M203.5 1690.2V1687.8M204.5 1690.2V1672.1M205.5 1690.2V1665.6M206.5 1690.2V1667.8M207.5 1690.2V1657.5M208.5 1690.2V1657.5M209.5 1690.2V1660.8M210.5 1690.2V1658.1M211.5 1690.2V1647.3M212.5 1690.2V1647.3M213.5 1690.2V1663.0M214.5 1690.2V1688.7M215.5 1690.2V1661.7M216.5 1690.2V1644.7M217.5 1690.2V1644.7M218.5 1690.2V1670.0M219.5 1690.2V1681.9M220.5 1690.2V1658.8M221.5 1690.2V1658.8M222.5 1690.2V1654.2M223.5 1690.2V1652.9M224.5 1690.2V1659.9M225.5 1690.2V1684.3M226.5 1690.2V1656.1M227.5 1690.2V1656.1M228.5 1690.2V1688.7M229.5 1690.2V1665.1M230.5 1690.2V1665.8M231.5 1690.2V1655.3M232.5 1690.2V1655.3M233.5 1690.2V1659.0M234.5 1690.2V1653.3M235.5 1690.2V1652.2M236.5 1690.2V1652.2M237.5 1690.2V1643.5M238.5 1690.2V1643.5M239.5 1690.2V1647.7M240.5 1690.2V1647.7M241.5 1690.2V1655.7M242.5 1690.2V1653.9M243.5 1690.2V1653.9M244.5 1690.2V1654.6M245.5 1690.2V1682.4M246.5 1690.2V1688.1M247.5 1690.2V1654.3M248.5 1690.2V1654.3M249.5 1690.2V1686.3M250.5 1690.2V1661.2M251.5 1690.2V1661.2M252.5 1690.2V1665.6M253.5 1690.2V1665.1M254.5 1690.2V1631.8M255.5 1690.2V1631.8M256.5 1690.2V1668.9M257.5 1690.2V1668.9M258.5 1690.2V1676.9M259.5 1690.2V1676.9M260.5 1690.2V1676.9M261.5 1690.2V1676.9M262.5 1690.2V1682.0M263.5 1690.2V1676.9M264.5 1690.2V1676.9M265.5 1690.2V1676.9M266.5 1690.2V1676.9M267.5 1690.2V1684.2M268.5 1690.2V1683.0M269.5 1690.2V1676.9M270.5 1690.2V1668.1M271.5 1690.2V1668.1M272.5 1690.2V1668.0M273.5 1690.2V1669.4M274.5 1690.2V1669.3M275.5 1690.2V1666.4M276.5 1690.2V1666.4M277.5 1690.2V1659.9M278.5 1690.2V1659.9M279.5 1690.2V1664.9M280.5 1690.2V1672.2M281.5 1690.2V1662.7M282.5 1690.2V1662.7M283.5 1690.2V1664.6M284.5 1690.2V1662.0M285.5 1690.2V1662.0M286.5 1690.2V1662.9M287.5 1690.2V1607.1M288.5 1690.2V1607.1M289.5 1690.2V1658.6M290.5 1690.2V1656.2M291.5 1690.2V1602.0M292.5 1690.2V1602.0M293.5 1690.2V1651.9M294.5 1690.2V1666.4M295.5 1690.2V1663.9M296.5 1690.2V1658.7M297.5 1690.2V1656.8M298.5 1690.2V1655.5M299.5 1690.2V1655.5M300.5 1690.2V1648.8M301.5 1690.2V1651.4M302.5 1690.2V1662.5M303.5 1690.2V1686.6M304.5 1690.2V1634.9M305.5 1690.2V1634.9M306.5 1690.2V1668.6M307.5 1690.2V1668.6M308.5 1690.2V1676.8M309.5 1690.2V1661.4M310.5 1690.2V1657.6M311.5 1690.2V1658.5M312.5 1690.2V1658.5M313.5 1690.2V1673.0M314.5 1690.2V1662.7M315.5 1690.2V1662.7M316.5 1690.2V1683.4M317.5 1690.2V1683.4M318.5 1690.2V1686.1M319.5 1690.2V1684.9M320.5 1690.2V1682.7M321.5 1690.2V1684.9M322.5 1690.2V1685.6M323.5 1690.2V1684.1M324.5 1690.2V1683.0M325.5 1690.2V1683.0M326.5 1690.2V1659.2M327.5 1690.2V1657.5M328.5 1690.2V1653.3M329.5 1690.2V1648.8M330.5 1690.2V1641.3M331.5 1690.2V1643.4M332.5 1690.2V1615.2M333.5 1690.2V1615.2M334.5 1690.2V1635.7M335.5 1690.2V1634.2M336.5 1690.2V1569.7M337.5 1690.2V1569.7M338.5 1690.2V1653.8M339.5 1690.2V1633.7M340.5 1690.2V1633.7M341.5 1690.2V1669.2M342.5 1690.2V1656.1M343.5 1690.2V1641.9M344.5 1690.2V1619.7M345.5 1690.2V1619.7M346.5 1690.2V1642.9M347.5 1690.2V1649.8M348.5 1690.2V1664.3M349.5 1690.2V1644.8M350.5 1690.2V1644.8M351.5 1690.2V1644.8M352.5 1690.2V1649.8M353.5 1690.2V1628.4M354.5 1690.2V1628.4M355.5 1690.2V1664.1M356.5 1690.2V1642.6M357.5 1690.2V1642.6M358.5 1690.2V1640.7M359.5 1690.2V1663.8M360.5 1690.2V1619.6M361.5 1690.2V1597.6M362.5 1690.2V1598.3M363.5 1690.2V1633.7M364.5 1690.2V1633.7M365.5 1690.2V1641.5M366.5 1690.2V1628.1M367.5 1690.2V1628.1M368.5 1690.2V1628.1M369.5 1690.2V1645.8M370.5 1690.2V1641.6M371.5 1690.2V1633.9M372.5 1690.2V1635.6M373.5 1690.2V1635.6M374.5 1690.2V1642.1M375.5 1690.2V1662.6M376.5 1690.2V1643.1M377.5 1690.2V1642.9M378.5 1690.2V1650.2M379.5 1690.2V1643.8M380.5 1690.2V1643.8M381.5 1690.2V1643.8M382.5 1690.2V1645.7M383.5 1690.2V1645.7M384.5 1690.2V1651.6M385.5 1690.2V1656.8M386.5 1690.2V1637.9M387.5 1690.2V1637.9M388.5 1690.2V1636.1M389.5 1690.2V1636.1M390.5 1690.2V1644.4M391.5 1690.2V1638.8M392.5 1690.2V1638.8M393.5 1690.2V1636.8M394.5 1690.2V1650.6M395.5 1690.2V1632.2M396.5 1690.2V1632.2M397.5 1690.2V1662.6M398.5 1690.2V1632.7M399.5 1690.2V1622.0M400.5 1690.2V1622.0M401.5 1690.2V1649.9M402.5 1690.2V1642.9M403.5 1690.2V1642.9M404.5 1690.2V1643.0M405.5 1690.2V1643.0M406.5 1690.2V1647.0M407.5 1690.2V1631.2M408.5 1690.2V1622.5M409.5 1690.2V1614.1M410.5 1690.2V1614.1M411.5 1690.2V1631.0M412.5 1690.2V1628.1M413.5 1690.2V1612.9M414.5 1690.2V1608.0M415.5 1690.2V1608.0M416.5 1690.2V1608.8M417.5 1690.2V1609.3M418.5 1690.2V1609.3M419.5 1690.2V1626.8M420.5 1690.2V1627.2M421.5 1690.2V1627.2M422.5 1690.2V1660.9M423.5 1690.2V1658.9M424.5 1690.2V1658.9M425.5 1690.2V1659.6M426.5 1690.2V1658.6M427.5 1690.2V1606.0M428.5 1690.2V1606.0M429.5 1690.2V1658.6M430.5 1690.2V1654.4M431.5 1690.2V1652.2M432.5 1690.2V1652.2M433.5 1690.2V1640.4M434.5 1690.2V1640.4M435.5 1690.2V1663.5M436.5 1690.2V1660.2M437.5 1690.2V1660.2M438.5 1690.2V1668.3M439.5 1690.2V1668.3M440.5 1690.2V1668.6M441.5 1690.2V1644.7M442.5 1690.2V1644.7M443.5 1690.2V1662.7M444.5 1690.2V1668.5M445.5 1690.2V1627.6M446.5 1690.2V1626.5M447.5 1690.2V1622.3M448.5 1690.2V1568.6M449.5 1690.2V1561.8M450.5 1690.2V1557.6M451.5 1690.2V1557.6M452.5 1690.2V1568.1M453.5 1690.2V1596.7M454.5 1690.2V1564.7M455.5 1690.2V1564.7M456.5 1690.2V1556.8M457.5 1690.2V1526.3M458.5 1690.2V1526.3M459.5 1690.2V1537.1M460.5 1690.2V1540.8M461.5 1690.2V1543.3M462.5 1690.2V1553.0M463.5 1690.2V1559.3M464.5 1690.2V1575.4M465.5 1690.2V1572.8M466.5 1690.2V1571.4M467.5 1690.2V1571.4M468.5 1690.2V1578.9M469.5 1690.2V1578.9M470.5 1690.2V1604.0M471.5 1690.2V1604.0M472.5 1690.2V1606.0M473.5 1690.2V1606.8M474.5 1690.2V1617.9M475.5 1690.2V1623.4M476.5 1690.2V1603.9M477.5 1690.2V1603.9M478.5 1690.2V1597.6M479.5 1690.2V1595.8M480.5 1690.2V1585.6M481.5 1690.2V1585.6M482.5 1690.2V1595.4M483.5 1690.2V1588.1M484.5 1690.2V1588.1M485.5 1690.2V1594.1M486.5 1690.2V1615.9M487.5 1690.2V1591.3M488.5 1690.2V1591.3M489.5 1690.2V1568.9M490.5 1690.2V1568.9M491.5 1690.2V1609.9M492.5 1690.2V1611.1M493.5 1690.2V1589.6M494.5 1690.2V1589.6M495.5 1690.2V1618.4M496.5 1690.2V1580.2M497.5 1690.2V1578.2M498.5 1690.2V1578.2M499.5 1690.2V1634.6M500.5 1690.2V1587.4M501.5 1690.2V1587.4M502.5 1690.2V1595.5M503.5 1690.2V1624.7M504.5 1690.2V1594.1M505.5 1690.2V1596.0M506.5 1690.2V1588.0M507.5 1690.2V1588.0M508.5 1690.2V1588.0M509.5 1690.2V1619.5M510.5 1690.2V1618.0M511.5 1690.2V1618.0M512.5 1690.2V1615.8M513.5 1690.2V1560.3M514.5 1690.2V1560.3M515.5 1690.2V1570.8M516.5 1690.2V1609.5M517.5 1690.2V1576.3M518.5 1690.2V1569.3M519.5 1690.2V1568.8M520.5 1690.2V1586.1M521.5 1690.2V1570.9M522.5 1690.2V1573.0M523.5 1690.2V1584.5M524.5 1690.2V1601.0M525.5 1690.2V1600.7M526.5 1690.2V1600.7M527.5 1690.2V1600.7M528.5 1690.2V1608.7M529.5 1690.2V1610.0M530.5 1690.2V1597.4M531.5 1690.2V1597.4M532.5 1690.2V1621.7M533.5 1690.2V1615.1M534.5 1690.2V1615.1M535.5 1690.2V1624.7M536.5 1690.2V1608.2M537.5 1690.2V1608.2M538.5 1690.2V1610.6M539.5 1690.2V1610.6M540.5 1690.2V1628.6M541.5 1690.2V1605.5M542.5 1690.2V1605.5M543.5 1690.2V1607.4M544.5 1690.2V1611.1M545.5 1690.2V1596.5M546.5 1690.2V1596.5M547.5 1690.2V1599.9M548.5 1690.2V1587.5M549.5 1690.2V1587.5M550.5 1690.2V1598.7M551.5 1690.2V1607.0M552.5 1690.2V1655.3M553.5 1690.2V1644.1M554.5 1690.2V1644.1M555.5 1690.2V1644.1M556.5 1690.2V1672.1M557.5 1690.2V1670.1M558.5 1690.2V1670.1M559.5 1690.2V1672.1M560.5 1690.2V1672.1M561.5 1690.2V1672.1M562.5 1690.2V1632.0M563.5 1690.2V1632.0M564.5 1690.2V1646.9M565.5 1690.2V1646.9M566.5 1690.2V1661.2M567.5 1690.2V1619.5M568.5 1690.2V1619.5M569.5 1690.2V1672.1M570.5 1690.2V1643.5M571.5 1690.2V1643.5M572.5 1690.2V1648.2M573.5 1690.2V1630.4M574.5 1690.2V1630.4M575.5 1690.2V1672.1M576.5 1690.2V1660.0M577.5 1690.2V1659.8M578.5 1690.2V1626.7M579.5 1690.2V1626.7M580.5 1690.2V1656.7M581.5 1690.2V1656.7M582.5 1690.2V1658.1M583.5 1690.2V1658.1M584.5 1690.2V1672.1M585.5 1690.2V1668.0M586.5 1690.2V1668.0M587.5 1690.2V1663.0M588.5 1690.2V1653.8M589.5 1690.2V1643.9M590.5 1690.2V1630.1M591.5 1690.2V1630.1M592.5 1690.2V1635.3M593.5 1690.2V1616.6M594.5 1690.2V1616.6M595.5 1690.2V1633.0M596.5 1690.2V1614.2M597.5 1690.2V1614.2M598.5 1690.2V1658.1M599.5 1690.2V1600.5M600.5 1690.2V1600.5M601.5 1690.2V1630.3M602.5 1690.2V1630.3M603.5 1690.2V1639.6M604.5 1690.2V1652.6M605.5 1690.2V1670.1M606.5 1690.2V1672.3M607.5 1690.2V1669.3M608.5 1690.2V1669.3M609.5 1690.2V1662.0M610.5 1690.2V1651.7M611.5 1690.2V1653.8M612.5 1690.2V1653.4M613.5 1690.2V1653.4M614.5 1690.2V1647.9M615.5 1690.2V1646.0M616.5 1690.2V1646.0M617.5 1690.2V1633.9M618.5 1690.2V1633.9M619.5 1690.2V1641.7M620.5 1690.2V1641.7M621.5 1690.2V1672.1M622.5 1690.2V1644.4M623.5 1690.2V1644.4M624.5 1690.2V1618.3M625.5 1690.2V1563.3M626.5 1690.2V1563.3M627.5 1690.2V1632.0M628.5 1690.2V1643.0M629.5 1690.2V1649.8M630.5 1690.2V1628.8M631.5 1690.2V1586.0M632.5 1690.2V1586.0M633.5 1690.2V1627.4M634.5 1690.2V1647.6M635.5 1690.2V1651.1M636.5 1690.2V1658.1M637.5 1690.2V1672.1M638.5 1690.2V1672.1M639.5 1690.2V1672.1M640.5 1690.2V1672.1M641.5 1690.2V1672.1M642.5 1690.2V1672.1M643.5 1690.2V1636.8M644.5 1690.2V1631.0M645.5 1690.2V1606.0M646.5 1690.2V1606.0M647.5 1690.2V1618.6M648.5 1690.2V1647.2M649.5 1690.2V1646.0M650.5 1690.2V1672.1M651.5 1690.2V1654.0M652.5 1690.2V1646.5M653.5 1690.2V1646.5M654.5 1690.2V1630.4M655.5 1690.2V1630.4M656.5 1690.2V1688.7M657.5 1690.2V1688.7M658.5 1690.2V1688.7M659.5 1690.2V1688.7M660.5 1690.2V1599.1M661.5 1690.2V1599.1M662.5 1690.2V1631.3M663.5 1690.2V1609.4M664.5 1690.2V1609.4M665.5 1690.2V1604.8M666.5 1690.2V1577.6M667.5 1690.2V1577.6M668.5 1690.2V1638.4M669.5 1690.2V1639.6M670.5 1690.2V1661.1M671.5 1690.2V1653.8M672.5 1690.2V1596.7M673.5 1690.2V1556.2M674.5 1690.2V1556.2M675.5 1690.2V1622.6M676.5 1690.2V1622.6M677.5 1690.2V1660.5M678.5 1690.2V1658.9M679.5 1690.2V1658.9M680.5 1690.2V1658.0M681.5 1690.2V1658.0M682.5 1690.2V1661.6M683.5 1690.2V1653.8M684.5 1690.2V1637.9M685.5 1690.2V1637.9M686.5 1690.2V1624.5M687.5 1690.2V1624.5M688.5 1690.2V1622.7M689.5 1690.2V1622.7M690.5 1690.2V1622.7M691.5 1690.2V1635.0M692.5 1690.2V1642.9M693.5 1690.2V1647.5M694.5 1690.2V1645.4M695.5 1690.2V1645.4M696.5 1690.2V1637.0M697.5 1690.2V1637.0M698.5 1690.2V1662.2M699.5 1690.2V1627.1M700.5 1690.2V1627.1M701.5 1690.2V1610.9M702.5 1690.2V1610.9M703.5 1690.2V1610.9M704.5 1690.2V1624.4M705.5 1690.2V1621.9M706.5 1690.2V1618.9M707.5 1690.2V1618.9M708.5 1690.2V1603.2M709.5 1690.2V1595.7M710.5 1690.2V1595.7M711.5 1690.2V1599.1M712.5 1690.2V1599.1M713.5 1690.2V1611.3M714.5 1690.2V1619.3M715.5 1690.2V1619.3M716.5 1690.2V1628.2M717.5 1690.2V1584.8M718.5 1690.2V1584.8M719.5 1690.2V1604.0M720.5 1690.2V1621.9M721.5 1690.2V1592.2M722.5 1690.2V1591.6M723.5 1690.2V1594.6M724.5 1690.2V1607.2M725.5 1690.2V1607.2M726.5 1690.2V1611.4M727.5 1690.2V1629.0M728.5 1690.2V1620.4M729.5 1690.2V1620.4M730.5 1690.2V1632.5M731.5 1690.2V1619.4M732.5 1690.2V1616.6M733.5 1690.2V1600.6M734.5 1690.2V1600.6M735.5 1690.2V1626.7M736.5 1690.2V1611.1M737.5 1690.2V1611.1M738.5 1690.2V1613.4M739.5 1690.2V1657.8M740.5 1690.2V1658.1M741.5 1690.2V1616.4M742.5 1690.2V1615.4M743.5 1690.2V1628.6M744.5 1690.2V1618.2M745.5 1690.2V1618.2M746.5 1690.2V1592.3M747.5 1690.2V1592.3M748.5 1690.2V1598.6M749.5 1690.2V1618.9M750.5 1690.2V1618.9M751.5 1690.2V1631.2M752.5 1690.2V1650.8M753.5 1690.2V1617.1M754.5 1690.2V1611.8M755.5 1690.2V1589.5M756.5 1690.2V1589.5M757.5 1690.2V1598.7M758.5 1690.2V1600.4M759.5 1690.2V1598.7M760.5 1690.2V1590.4M761.5 1690.2V1590.4M762.5 1690.2V1594.5M763.5 1690.2V1578.9M764.5 1690.2V1578.9M765.5 1690.2V1578.9M766.5 1690.2V1589.5M767.5 1690.2V1574.8M768.5 1690.2V1567.9M769.5 1690.2V1527.1M770.5 1690.2V1527.1M771.5 1690.2V1543.9M772.5 1690.2V1599.5M773.5 1690.2V1466.0M774.5 1690.2V1466.0M775.5 1690.2V1532.0M776.5 1690.2V1541.1M777.5 1690.2V1541.1M778.5 1690.2V1688.7M779.5 1690.2V1688.7M780.5 1690.2V1688.7M781.5 1690.2V1688.7M782.5 1690.2V1688.7M783.5 1690.2V1688.7M784.5 1690.2V1688.7M785.5 1690.2V1576.8M786.5 1690.2V1576.8M787.5 1690.2V1561.2M788.5 1690.2V1543.0M789.5 1690.2V1543.0M790.5 1690.2V1569.7M791.5 1690.2V1576.3M792.5 1690.2V1524.0M793.5 1690.2V1515.5M794.5 1690.2V1512.6M795.5 1690.2V1512.6M796.5 1690.2V1567.5M797.5 1690.2V1625.9M798.5 1690.2V1569.6M799.5 1690.2V1567.3M800.5 1690.2V1518.1M801.5 1690.2V1518.1M802.5 1690.2V1546.7M803.5 1690.2V1543.0M804.5 1690.2V1526.3M805.5 1690.2V1526.3M806.5 1690.2V1528.8M807.5 1690.2V1532.8M808.5 1690.2V1534.5M809.5 1690.2V1528.4M810.5 1690.2V1528.4M811.5 1690.2V1539.5M812.5 1690.2V1555.6M813.5 1690.2V1628.5M814.5 1690.2V1607.6M815.5 1690.2V1609.6M816.5 1690.2V1601.0M817.5 1690.2V1589.4M818.5 1690.2V1589.4M819.5 1690.2V1586.1M820.5 1690.2V1586.1M821.5 1690.2V1608.3M822.5 1690.2V1608.3M823.5 1690.2V1635.2M824.5 1690.2V1608.7M825.5 1690.2V1589.4M826.5 1690.2V1589.4M827.5 1690.2V1609.9M828.5 1690.2V1609.9M829.5 1690.2V1663.4M830.5 1690.2V1618.4M831.5 1690.2V1618.4M832.5 1690.2V1654.6M833.5 1690.2V1644.8M834.5 1690.2V1644.8M835.5 1690.2V1580.3M836.5 1690.2V1580.3M837.5 1690.2V1604.8M838.5 1690.2V1657.5M839.5 1690.2V1593.1M840.5 1690.2V1593.1M841.5 1690.2V1596.0M842.5 1690.2V1628.9M843.5 1690.2V1658.7M844.5 1690.2V1595.1M845.5 1690.2V1595.1M846.5 1690.2V1678.4M847.5 1690.2V1655.9M848.5 1690.2V1655.9M849.5 1690.2V1587.4M850.5 1690.2V1587.4M851.5 1690.2V1590.7M852.5 1690.2V1590.7M853.5 1690.2V1619.5M854.5 1690.2V1632.9M855.5 1690.2V1649.1M856.5 1690.2V1597.6M857.5 1690.2V1597.6M858.5 1690.2V1647.4M859.5 1690.2V1652.8M860.5 1690.2V1600.0M861.5 1690.2V1596.5M862.5 1690.2V1578.0M863.5 1690.2V1578.0M864.5 1690.2V1595.5M865.5 1690.2V1613.2M866.5 1690.2V1585.6M867.5 1690.2V1578.3M868.5 1690.2V1578.3M869.5 1690.2V1593.3M870.5 1690.2V1576.1M871.5 1690.2V1574.7M872.5 1690.2V1574.7M873.5 1690.2V1593.3M874.5 1690.2V1588.1M875.5 1690.2V1580.6M876.5 1690.2V1582.0M877.5 1690.2V1563.1M878.5 1690.2V1561.3M879.5 1690.2V1561.3M880.5 1690.2V1577.9M881.5 1690.2V1556.0M882.5 1690.2V1485.0M883.5 1690.2V1400.0M884.5 1690.2V1290.0M885.5 1690.2V1290.0M886.5 1690.2V1450.0M887.5 1690.2V1544.2M888.5 1690.2V1541.8M889.5 1690.2V1541.8M890.5 1690.2V1524.9M891.5 1690.2V1524.3M892.5 1690.2V1542.6M893.5 1690.2V1537.2M894.5 1690.2V1537.2M895.5 1690.2V1540.4M896.5 1690.2V1540.5M897.5 1690.2V1591.3M898.5 1690.2V1634.1M899.5 1690.2V1627.0M900.5 1690.2V1601.8M901.5 1690.2V1601.8M902.5 1690.2V1630.8M903.5 1690.2V1665.4M904.5 1690.2V1636.7M905.5 1690.2V1627.5M906.5 1690.2V1627.5M907.5 1690.2V1639.3M908.5 1690.2V1639.3M909.5 1690.2V1642.4M910.5 1690.2V1617.1M911.5 1690.2V1617.1M912.5 1690.2V1616.0M913.5 1690.2V1645.4M914.5 1690.2V1625.9M915.5 1690.2V1625.9M916.5 1690.2V1621.1M917.5 1690.2V1604.1M918.5 1690.2V1604.1M919.5 1690.2V1600.5M920.5 1690.2V1602.6M921.5 1690.2V1607.5M922.5 1690.2V1607.5M923.5 1690.2V1639.3M924.5 1690.2V1649.9M925.5 1690.2V1618.0M926.5 1690.2V1618.0M927.5 1690.2V1618.5M928.5 1690.2V1616.7M929.5 1690.2V1650.6M930.5 1690.2V1619.4M931.5 1690.2V1619.4M932.5 1690.2V1630.1M933.5 1690.2V1629.2M934.5 1690.2V1629.2M935.5 1690.2V1638.1M936.5 1690.2V1666.7M937.5 1690.2V1654.9M938.5 1690.2V1654.9M939.5 1690.2V1627.6M940.5 1690.2V1627.6M941.5 1690.2V1633.8M942.5 1690.2V1599.3M943.5 1690.2V1599.3M944.5 1690.2V1613.6M945.5 1690.2V1596.8M946.5 1690.2V1582.9M947.5 1690.2V1582.9M948.5 1690.2V1614.2M949.5 1690.2V1614.2M950.5 1690.2V1619.9M951.5 1690.2V1619.9M952.5 1690.2V1625.5M953.5 1690.2V1601.8M954.5 1690.2V1601.8M955.5 1690.2V1615.1M956.5 1690.2V1625.4M957.5 1690.2V1625.4M958.5 1690.2V1643.6M959.5 1690.2V1603.7M960.5 1690.2V1603.7M961.5 1690.2V1617.4M962.5 1690.2V1657.5M963.5 1690.2V1626.0M964.5 1690.2V1626.0M965.5 1690.2V1651.3M966.5 1690.2V1630.5M967.5 1690.2V1630.5M968.5 1690.2V1630.5M969.5 1690.2V1665.9M970.5 1690.2V1665.9M971.5 1690.2V1665.9M972.5 1690.2V1653.6M973.5 1690.2V1653.6M974.5 1690.2V1626.1M975.5 1690.2V1626.1M976.5 1690.2V1626.1M977.5 1690.2V1631.6M978.5 1690.2V1630.8M979.5 1690.2V1630.8M980.5 1690.2V1640.5M981.5 1690.2V1636.7M982.5 1690.2V1636.7M983.5 1690.2V1636.7M984.5 1690.2V1646.3M985.5 1690.2V1643.6M986.5 1690.2V1634.7M987.5 1690.2V1624.7M988.5 1690.2V1625.9M989.5 1690.2V1606.1M990.5 1690.2V1606.1M991.5 1690.2V1606.1M992.5 1690.2V1610.6M993.5 1690.2V1608.4M994.5 1690.2V1608.4M995.5 1690.2V1613.2M996.5 1690.2V1655.3M997.5 1690.2V1626.2M998.5 1690.2V1626.2M999.5 1690.2V1648.0M1000.5 1690.2V1647.0M1001.5 1690.2V1619.7M1002.5 1690.2V1619.7M1003.5 1690.2V1625.1M1004.5 1690.2V1625.1M1005.5 1690.2V1634.7M1006.5 1690.2V1625.5M1007.5 1690.2V1625.5M1008.5 1690.2V1636.0M1009.5 1690.2V1598.1M1010.5 1690.2V1598.1M1011.5 1690.2V1632.7M1012.5 1690.2V1614.1M1013.5 1690.2V1616.1M1014.5 1690.2V1612.9M1015.5 1690.2V1612.9M1016.5 1690.2V1631.1M1017.5 1690.2V1615.6M1018.5 1690.2V1615.6M1019.5 1690.2V1610.9M1020.5 1690.2V1610.9M1021.5 1690.2V1610.9M1022.5 1690.2V1639.1M1023.5 1690.2V1648.3M1024.5 1690.2V1638.1M1025.5 1690.2V1638.1M1026.5 1690.2V1629.9M1027.5 1690.2V1629.9M1028.5 1690.2V1626.6M1029.5 1690.2V1624.6M1030.5 1690.2V1626.6M1031.5 1690.2V1631.7M1032.5 1690.2V1647.5M1033.5 1690.2V1649.0M1034.5 1690.2V1656.7M1035.5 1690.2V1653.6M1036.5 1690.2V1645.5M1037.5 1690.2V1619.8M1038.5 1690.2V1619.8M1039.5 1690.2V1619.8M1040.5 1690.2V1635.3M1041.5 1690.2V1635.3M1042.5 1690.2V1648.0M1043.5 1690.2V1631.4M1044.5 1690.2V1631.4M1045.5 1690.2V1636.4M1046.5 1690.2V1636.4M1047.5 1690.2V1638.4M1048.5 1690.2V1656.8M1049.5 1690.2V1600.9M1050.5 1690.2V1600.9M1051.5 1690.2V1649.6M1052.5 1690.2V1632.5M1053.5 1690.2V1626.6M1054.5 1690.2V1626.6M1055.5 1690.2V1600.8M1056.5 1690.2V1601.8M1057.5 1690.2V1610.7M1058.5 1690.2V1632.0M1059.5 1690.2V1627.1M1060.5 1690.2V1627.1M1061.5 1690.2V1653.6M1062.5 1690.2V1653.6M1063.5 1690.2V1654.2M1064.5 1690.2V1661.7M1065.5 1690.2V1647.6M1066.5 1690.2V1642.1M1067.5 1690.2V1639.2M1068.5 1690.2V1639.2M1069.5 1690.2V1645.5M1070.5 1690.2V1649.5M1071.5 1690.2V1666.1M1072.5 1690.2V1636.7M1073.5 1690.2V1634.4M1074.5 1690.2V1610.7M1075.5 1690.2V1610.7M1076.5 1690.2V1637.3M1077.5 1690.2V1618.6M1078.5 1690.2V1602.7M1079.5 1690.2V1602.7M1080.5 1690.2V1659.1M1081.5 1690.2V1604.0M1082.5 1690.2V1604.0M1083.5 1690.2V1634.6M1084.5 1690.2V1638.4M1085.5 1690.2V1638.4M1086.5 1690.2V1653.9M1087.5 1690.2V1659.3M1088.5 1690.2V1651.0M1089.5 1690.2V1651.0M1090.5 1690.2V1649.4M1091.5 1690.2V1649.4M1092.5 1690.2V1654.9M1093.5 1690.2V1603.4M1094.5 1690.2V1603.4M1095.5 1690.2V1625.5M1096.5 1690.2V1625.5M1097.5 1690.2V1626.1M1098.5 1690.2V1624.0M1099.5 1690.2V1626.5M1100.5 1690.2V1627.9M1101.5 1690.2V1658.8M1102.5 1690.2V1627.6M1103.5 1690.2V1627.6M1104.5 1690.2V1633.5M1105.5 1690.2V1622.6M1106.5 1690.2V1622.6M1107.5 1690.2V1628.5M1108.5 1690.2V1657.0M1109.5 1690.2V1654.2M1110.5 1690.2V1654.2M1111.5 1690.2V1639.8M1112.5 1690.2V1639.8M1113.5 1690.2V1636.3M1114.5 1690.2V1631.7M1115.5 1690.2V1630.4M1116.5 1690.2V1600.1M1117.5 1690.2V1600.1M1118.5 1690.2V1641.2M1119.5 1690.2V1644.8M1120.5 1690.2V1630.1M1121.5 1690.2V1630.1M1122.5 1690.2V1635.8M1123.5 1690.2V1657.3M1124.5 1690.2V1633.0M1125.5 1690.2V1631.0M1126.5 1690.2V1619.6M1127.5 1690.2V1618.3M1128.5 1690.2V1622.9M1129.5 1690.2V1621.7M1130.5 1690.2V1621.7M1131.5 1690.2V1637.5M1132.5 1690.2V1658.1M1133.5 1690.2V1632.4M1134.5 1690.2V1632.4M1135.5 1690.2V1638.9M1136.5 1690.2V1638.9M1137.5 1690.2V1644.9M1138.5 1690.2V1623.7M1139.5 1690.2V1623.8M1140.5 1690.2V1619.6M1141.5 1690.2V1621.1M1142.5 1690.2V1621.1M1143.5 1690.2V1627.7M1144.5 1690.2V1610.6M1145.5 1690.2V1608.1M1146.5 1690.2V1605.7M1147.5 1690.2V1638.7M1148.5 1690.2V1645.8M1149.5 1690.2V1627.5M1150.5 1690.2V1615.9M1151.5 1690.2V1607.0M1152.5 1690.2V1608.0M1153.5 1690.2V1633.5M1154.5 1690.2V1633.5M1155.5 1690.2V1635.3M1156.5 1690.2V1613.6M1157.5 1690.2V1613.6M1158.5 1690.2V1621.0M1159.5 1690.2V1617.2M1160.5 1690.2V1600.7M1161.5 1690.2V1598.8M1162.5 1690.2V1598.8M1163.5 1690.2V1630.2M1164.5 1690.2V1628.7M1165.5 1690.2V1628.7M1166.5 1690.2V1618.8M1167.5 1690.2V1610.3M1168.5 1690.2V1610.0M1169.5 1690.2V1610.0M1170.5 1690.2V1628.3M1171.5 1690.2V1622.4M1172.5 1690.2V1588.0M1173.5 1690.2V1588.0M1174.5 1690.2V1588.9M1175.5 1690.2V1597.4M1176.5 1690.2V1599.9M1177.5 1690.2V1607.1M1178.5 1690.2V1654.1M1179.5 1690.2V1626.9M1180.5 1690.2V1626.9M1181.5 1690.2V1620.1M1182.5 1690.2V1620.1M1183.5 1690.2V1614.9M1184.5 1690.2V1614.9M1185.5 1690.2V1615.0M1186.5 1690.2V1615.0M1187.5 1690.2V1615.2M1188.5 1690.2V1610.8M1189.5 1690.2V1598.7M1190.5 1690.2V1598.7M1191.5 1690.2V1648.5M1192.5 1690.2V1615.9M1193.5 1690.2V1612.8M1194.5 1690.2V1612.8M1195.5 1690.2V1602.2M1196.5 1690.2V1602.2M1197.5 1690.2V1605.8M1198.5 1690.2V1599.5M1199.5 1690.2V1599.5M1200.5 1690.2V1633.1M1201.5 1690.2V1609.6M1202.5 1690.2V1609.6M1203.5 1690.2V1609.6M1204.5 1690.2V1645.5M1205.5 1690.2V1603.7M1206.5 1690.2V1603.7M1207.5 1690.2V1582.4M1208.5 1690.2V1582.4M1209.5 1690.2V1595.0M1210.5 1690.2V1578.5M1211.5 1690.2V1578.5M1212.5 1690.2V1573.6M1213.5 1690.2V1573.6M1214.5 1690.2V1577.2M1215.5 1690.2V1575.7M1216.5 1690.2V1590.0M1217.5 1690.2V1587.4M1218.5 1690.2V1611.2M1219.5 1690.2V1598.3M1220.5 1690.2V1598.3M1221.5 1690.2V1624.1M1222.5 1690.2V1602.9M1223.5 1690.2V1605.9M1224.5 1690.2V1594.7M1225.5 1690.2V1594.7M1226.5 1690.2V1587.7M1227.5 1690.2V1587.7M1228.5 1690.2V1631.4M1229.5 1690.2V1585.6M1230.5 1690.2V1586.1M1231.5 1690.2V1610.4M1232.5 1690.2V1651.6M1233.5 1690.2V1568.0M1234.5 1690.2V1570.7M1235.5 1690.2V1573.7M1236.5 1690.2V1606.4M1237.5 1690.2V1606.0M1238.5 1690.2V1598.4M1239.5 1690.2V1598.4M1240.5 1690.2V1598.4M1241.5 1690.2V1598.7M1242.5 1690.2V1588.3M1243.5 1690.2V1588.3M1244.5 1690.2V1589.5M1245.5 1690.2V1621.2M1246.5 1690.2V1608.9M1247.5 1690.2V1608.9M1248.5 1690.2V1600.6M1249.5 1690.2V1596.1M1250.5 1690.2V1595.6M1251.5 1690.2V1594.2M1252.5 1690.2V1594.2M1253.5 1690.2V1630.1M1254.5 1690.2V1630.1M1255.5 1690.2V1650.9M1256.5 1690.2V1651.3M1257.5 1690.2V1626.9M1258.5 1690.2V1626.9M1259.5 1690.2V1628.2M1260.5 1690.2V1606.6M1261.5 1690.2V1606.6M1262.5 1690.2V1620.3M1263.5 1690.2V1617.0M1264.5 1690.2V1598.2M1265.5 1690.2V1598.2M1266.5 1690.2V1613.2M1267.5 1690.2V1659.7M1268.5 1690.2V1647.0M1269.5 1690.2V1649.3M1270.5 1690.2V1649.3M1271.5 1690.2V1676.3M1272.5 1690.2V1659.1M1273.5 1690.2V1659.1M1274.5 1690.2V1664.5M1275.5 1690.2V1629.8M1276.5 1690.2V1629.8M1277.5 1690.2V1614.3M1278.5 1690.2V1614.3M1279.5 1690.2V1612.0M1280.5 1690.2V1622.9M1281.5 1690.2V1631.2M1282.5 1690.2V1664.6M1283.5 1690.2V1571.9M1284.5 1690.2V1571.9M1285.5 1690.2V1609.0M1286.5 1690.2V1648.1M1287.5 1690.2V1669.4M1288.5 1690.2V1646.9M1289.5 1690.2V1646.9M1290.5 1690.2V1637.7M1291.5 1690.2V1637.7M1292.5 1690.2V1637.3M1293.5 1690.2V1634.6M1294.5 1690.2V1634.6M1295.5 1690.2V1634.6M1296.5 1690.2V1664.9M1297.5 1690.2V1660.2M1298.5 1690.2V1660.2M1299.5 1690.2V1648.7M1300.5 1690.2V1648.7M1301.5 1690.2V1648.7M1302.5 1690.2V1665.0M1303.5 1690.2V1663.2M1304.5 1690.2V1609.7M1305.5 1690.2V1609.7M1306.5 1690.2V1591.5M1307.5 1690.2V1581.8M1308.5 1690.2V1581.8M1309.5 1690.2V1596.2M1310.5 1690.2V1602.5M1311.5 1690.2V1623.3M1312.5 1690.2V1611.9M1313.5 1690.2V1613.7M1314.5 1690.2V1597.7M1315.5 1690.2V1597.7M1316.5 1690.2V1633.1M1317.5 1690.2V1633.1M1318.5 1690.2V1635.9M1319.5 1690.2V1635.9" stroke="#0072bd" stroke-width="1" fill="none"/>
<path d="M110.5 1652.2V1637.4M112.5 1648.4V1608.6M115.5 1647.6V1620.5M118.5 1629.9V1523.0M123.5 1598.3V1587.8M130.5 1657.3V1649.0M132.5 1656.1V1652.8M135.5 1653.8V1649.4M138.5 1642.6V1626.2M142.5 1655.4V1648.4M145.5 1664.2V1655.6M148.5 1655.7V1634.7M151.5 1627.8V1558.6M154.5 1646.5V1625.5M165.5 1659.6V1643.4M168.5 1659.5V1587.0M178.5 1670.4V1653.5M180.5 1667.2V1585.9M185.5 1664.4V1654.2M190.5 1681.9V1674.5M192.5 1663.6V1595.7M194.5 1657.2V1594.5M200.5 1654.3V1531.0M207.5 1657.5V1526.0M211.5 1647.3V1620.9M217.5 1644.7V1605.1M220.5 1658.8V1624.7M226.5 1656.1V1558.6M231.5 1655.3V1626.6M235.5 1652.2V1630.4M237.5 1643.5V1609.6M240.5 1647.7V1599.8M242.5 1653.9V1645.1M247.5 1654.3V1641.4M250.5 1661.2V1658.1M255.5 1631.8V1619.8M257.5 1668.9V1594.3M259.5 1676.9V1624.5M270.5 1668.1V1664.4M275.5 1666.4V1660.5M277.5 1659.9V1596.4M282.5 1662.7V1602.1M284.5 1662.0V1656.6M288.5 1607.1V1528.6M291.5 1602.0V1598.1M298.5 1655.5V1605.8M305.5 1634.9V1558.6M307.5 1668.6V1648.0M312.5 1658.5V1628.9M315.5 1662.7V1602.7M317.5 1683.4V1678.7M333.5 1615.2V1600.8M336.5 1569.7V1545.0M339.5 1633.7V1610.1M344.5 1619.7V1609.8M349.5 1644.8V1609.0M351.5 1644.8V1604.6M354.5 1628.4V1605.6M356.5 1642.6V1633.4M364.5 1633.7V1628.5M366.5 1628.1V1564.0M368.5 1628.1V1618.9M373.5 1635.6V1624.3M379.5 1643.8V1639.7M381.5 1643.8V1618.9M383.5 1645.7V1574.2M386.5 1637.9V1591.2M389.5 1636.1V1624.8M396.5 1632.2V1625.2M400.5 1622.0V1617.2M402.5 1642.9V1612.1M405.5 1643.0V1633.3M409.5 1614.1V1556.0M414.5 1608.0V1589.2M418.5 1609.3V1585.7M421.5 1627.2V1623.8M423.5 1658.9V1604.4M428.5 1606.0V1562.0M431.5 1652.2V1644.3M434.5 1640.4V1628.5M436.5 1660.2V1571.8M439.5 1668.3V1654.4M442.5 1644.7V1635.7M450.5 1557.6V1542.9M454.5 1564.7V1550.1M458.5 1526.3V1505.5M467.5 1571.4V1535.7M469.5 1578.9V1556.3M471.5 1604.0V1594.9M476.5 1603.9V1527.0M480.5 1585.6V1573.4M483.5 1588.1V1564.9M487.5 1591.3V1566.0M490.5 1568.9V1536.8M494.5 1589.6V1585.7M498.5 1578.2V1571.9M500.5 1587.4V1584.2M506.5 1588.0V1579.6M508.5 1588.0V1547.7M510.5 1618.0V1567.5M513.5 1560.3V1522.5M525.5 1600.7V1557.7M527.5 1600.7V1593.1M531.5 1597.4V1544.0M534.5 1615.1V1605.6M536.5 1608.2V1603.9M539.5 1610.6V1602.0M542.5 1605.5V1572.4M545.5 1596.5V1564.0M548.5 1587.5V1566.7M553.5 1644.1V1622.4M555.5 1644.1V1614.6M557.5 1670.1V1657.9M560.5 1672.1V1664.9M563.5 1632.0V1542.0M567.5 1619.5V1572.0M571.5 1643.5V1633.1M574.5 1630.4V1587.6M579.5 1626.7V1588.7M581.5 1656.7V1603.3M583.5 1658.1V1648.5M585.5 1668.0V1646.7M591.5 1630.1V1613.5M594.5 1616.6V1595.6M597.5 1614.2V1598.0M600.5 1600.5V1594.4M602.5 1630.3V1560.2M607.5 1669.3V1507.6M612.5 1653.4V1629.8M615.5 1646.0V1622.0M618.5 1633.9V1585.5M620.5 1641.7V1635.5M622.5 1644.4V1594.9M625.5 1563.3V1542.0M631.5 1586.0V1571.7M639.5 1672.1V1643.7M641.5 1672.1V1606.9M645.5 1606.0V1597.4M652.5 1646.5V1579.1M655.5 1630.4V1618.4M660.5 1599.1V1589.1M663.5 1609.4V1586.6M667.5 1577.6V1536.3M674.5 1556.2V1547.1M676.5 1622.6V1614.8M678.5 1658.9V1621.6M680.5 1658.0V1628.1M684.5 1637.9V1633.5M686.5 1624.5V1604.7M688.5 1622.7V1619.5M690.5 1622.7V1597.1M694.5 1645.4V1555.8M697.5 1637.0V1552.3M699.5 1627.1V1620.8M701.5 1610.9V1538.8M703.5 1610.9V1593.7M706.5 1618.9V1583.4M710.5 1595.7V1576.3M712.5 1599.1V1592.4M715.5 1619.3V1567.3M717.5 1584.8V1548.4M725.5 1607.2V1576.3M729.5 1620.4V1612.9M733.5 1600.6V1578.5M736.5 1611.1V1603.3M744.5 1618.2V1575.2M747.5 1592.3V1532.3M750.5 1618.9V1615.3M756.5 1589.5V1579.4M761.5 1590.4V1564.5M763.5 1578.9V1572.2M765.5 1578.9V1497.5M770.5 1527.1V1516.3M773.5 1466.0V1410.0M777.5 1541.1V1486.0M785.5 1576.8V1505.9M788.5 1543.0V1535.5M795.5 1512.6V1496.0M801.5 1518.1V1507.6M805.5 1526.3V1517.2M810.5 1528.4V1520.2M817.5 1589.4V1581.2M819.5 1586.1V1572.1M822.5 1608.3V1575.8M825.5 1589.4V1576.5M828.5 1609.9V1588.0M830.5 1618.4V1611.1M833.5 1644.8V1578.9M835.5 1580.3V1557.8M839.5 1593.1V1532.6M844.5 1595.1V1578.9M847.5 1655.9V1609.3M849.5 1587.4V1577.9M852.5 1590.7V1564.0M856.5 1597.6V1590.8M862.5 1578.0V1569.8M867.5 1578.3V1529.0M871.5 1574.7V1562.8M879.5 1561.3V1553.8M884.5 1290.0V1282.5M888.5 1541.8V1533.4M894.5 1537.2V1521.0M901.5 1601.8V1584.4M905.5 1627.5V1594.2M908.5 1639.3V1610.2M910.5 1617.1V1575.4M914.5 1625.9V1608.6M917.5 1604.1V1580.5M922.5 1607.5V1598.7M926.5 1618.0V1609.1M930.5 1619.4V1606.5M934.5 1629.2V1579.2M937.5 1654.9V1645.3M940.5 1627.6V1620.9M942.5 1599.3V1574.8M947.5 1582.9V1576.5M949.5 1614.2V1602.9M951.5 1619.9V1566.1M953.5 1601.8V1591.5M957.5 1625.4V1609.6M959.5 1603.7V1589.2M964.5 1626.0V1616.2M966.5 1630.5V1614.5M968.5 1630.5V1611.3M972.5 1653.6V1635.2M974.5 1626.1V1614.1M976.5 1626.1V1600.5M979.5 1630.8V1607.7M981.5 1636.7V1612.8M983.5 1636.7V1616.3M989.5 1606.1V1597.6M991.5 1606.1V1573.0M994.5 1608.4V1603.1M997.5 1626.2V1623.0M1002.5 1619.7V1562.4M1004.5 1625.1V1613.4M1007.5 1625.5V1569.7M1010.5 1598.1V1575.6M1014.5 1612.9V1601.9M1017.5 1615.6V1596.9M1019.5 1610.9V1596.7M1021.5 1610.9V1603.4M1024.5 1638.1V1632.4M1026.5 1629.9V1624.7M1037.5 1619.8V1569.8M1039.5 1619.8V1610.8M1041.5 1635.3V1595.3M1044.5 1631.4V1585.7M1046.5 1636.4V1606.8M1050.5 1600.9V1564.6M1053.5 1626.6V1620.4M1059.5 1627.1V1611.0M1062.5 1653.6V1634.7M1067.5 1639.2V1591.0M1074.5 1610.7V1604.5M1079.5 1602.7V1586.7M1082.5 1604.0V1583.8M1085.5 1638.4V1632.1M1088.5 1651.0V1630.4M1091.5 1649.4V1635.5M1093.5 1603.4V1583.2M1096.5 1625.5V1611.0M1103.5 1627.6V1600.8M1105.5 1622.6V1619.4M1109.5 1654.2V1643.2M1111.5 1639.8V1630.5M1117.5 1600.1V1582.6M1120.5 1630.1V1627.0M1130.5 1621.7V1609.3M1133.5 1632.4V1592.4M1136.5 1638.9V1634.6M1142.5 1621.1V1591.8M1154.5 1633.5V1621.6M1156.5 1613.6V1606.1M1162.5 1598.8V1573.4M1164.5 1628.7V1623.9M1168.5 1610.0V1599.5M1172.5 1588.0V1546.2M1179.5 1626.9V1565.4M1181.5 1620.1V1611.5M1184.5 1614.9V1598.0M1186.5 1615.0V1609.9M1189.5 1598.7V1582.9M1193.5 1612.8V1595.4M1196.5 1602.2V1564.4M1198.5 1599.5V1593.3M1201.5 1609.6V1580.3M1203.5 1609.6V1590.6M1205.5 1603.7V1592.2M1208.5 1582.4V1576.5M1210.5 1578.5V1554.8M1212.5 1573.6V1550.9M1220.5 1598.3V1576.0M1224.5 1594.7V1590.7M1226.5 1587.7V1577.1M1238.5 1598.4V1531.7M1240.5 1598.4V1564.1M1242.5 1588.3V1576.2M1246.5 1608.9V1579.4M1252.5 1594.2V1590.7M1254.5 1630.1V1608.6M1257.5 1626.9V1530.4M1260.5 1606.6V1586.8M1264.5 1598.2V1584.3M1270.5 1649.3V1562.8M1272.5 1659.1V1521.0M1275.5 1629.8V1615.7M1277.5 1614.3V1600.9M1284.5 1571.9V1528.0M1288.5 1646.9V1634.0M1290.5 1637.7V1561.2M1293.5 1634.6V1580.0M1295.5 1634.6V1538.6M1297.5 1660.2V1598.7M1299.5 1648.7V1625.7M1301.5 1648.7V1642.4M1304.5 1609.7V1591.4M1307.5 1581.8V1526.6M1314.5 1597.7V1593.2M1317.5 1633.1V1548.9M1319.5 1635.9V1610.4" stroke="#3a8fcc" stroke-width="1" fill="none"/>
<path d="M607.5 1095.5V1072.9M608.5 1095.5V1069.8M609.5 1095.5V1069.4M611.5 1095.5V1066.4M613.5 1095.5V1076.7M614.5 1095.5V1071.5M616.5 1095.5V1078.8M626.5 1095.5V1075.6M627.5 1095.5V1072.3M630.5 1095.5V1057.8M631.5 1095.5V1058.4M636.5 1095.5V1084.1M637.5 1095.5V1084.6M641.5 1095.5V1083.1M643.5 1095.5V1068.0M649.5 1095.5V1074.3M650.5 1095.5V1079.5M656.5 1095.5V1090.3M658.5 1095.5V1061.8M659.5 1095.5V1065.8M662.5 1095.5V1067.4M663.5 1095.5V1077.1M664.5 1095.5V1075.1M669.5 1095.5V1085.9M670.5 1095.5V1083.4M671.5 1095.5V1081.0M676.5 1095.5V1056.1M677.5 1095.5V1061.3M678.5 1095.5V1060.7M681.5 1095.5V1066.0M682.5 1095.5V1060.3M684.5 1095.5V1071.3M685.5 1095.5V1071.9M686.5 1095.5V1074.3M688.5 1095.5V1083.2M692.5 1095.5V1060.5M696.5 1095.5V1063.3M701.5 1095.5V1077.4M703.5 1095.5V1065.1M704.5 1095.5V1053.2M705.5 1095.5V1065.6M708.5 1095.5V1085.0M709.5 1095.5V1086.5M716.5 1095.5V1074.7M717.5 1095.5V1069.2M724.5 1095.5V1090.0M727.5 1095.5V1082.3M731.5 1095.5V1074.9M732.5 1095.5V1077.4M734.5 1095.5V1085.4M735.5 1095.5V1082.2M740.5 1095.5V1067.3M745.5 1095.5V1075.9M751.5 1095.5V1078.7M752.5 1095.5V1081.2M753.5 1095.5V1077.7M755.5 1095.5V1075.4M756.5 1095.5V1066.7M758.5 1095.5V1071.4M759.5 1095.5V1071.7" stroke="#fff" stroke-width="1" fill="none"/>
<path d="M607 1094.7h1M608 1094.7h1M609 1094.7h1M611 1094.7h1M613 1094.7h1M614 1094.7h1M616 1094.7h1M626 1094.7h1M627 1094.7h1M630 1094.7h1M631 1094.7h1M636 1094.7h1M637 1094.7h1M641 1094.7h1M643 1094.7h1M649 1094.7h1M650 1094.7h1M656 1094.7h1M658 1094.7h1M659 1094.7h1M662 1094.7h1M663 1094.7h1M664 1094.7h1M669 1094.7h1M670 1094.7h1M671 1094.7h1M676 1094.7h1M677 1094.7h1M678 1094.7h1M681 1094.7h1M682 1094.7h1M684 1094.7h1M685 1094.7h1M686 1094.7h1M688 1094.7h1M692 1094.7h1M696 1094.7h1M701 1094.7h1M703 1094.7h1M704 1094.7h1M705 1094.7h1M708 1094.7h1M709 1094.7h1M716 1094.7h1M717 1094.7h1M724 1094.7h1M727 1094.7h1M731 1094.7h1M732 1094.7h1M734 1094.7h1M735 1094.7h1M740 1094.7h1M745 1094.7h1M751 1094.7h1M752 1094.7h1M753 1094.7h1M755 1094.7h1M756 1094.7h1M758 1094.7h1M759 1094.7h1" stroke="#2a2a2a" stroke-width="1.6" fill="none"/>
<path d="M456.4 47V1690.2" stroke="#ff0000" stroke-width="2.3" stroke-opacity="0.9" fill="none"/>
<path d="M881.8 47V1690.2" stroke="#ff0000" stroke-width="2.3" stroke-opacity="0.9" fill="none"/>
<path d="M898.0 47V1690.2" stroke="#ff0000" stroke-width="2.3" stroke-opacity="0.9" fill="none"/>
<path d="M941.5 107.4L899 113.3" stroke="#ff0000" stroke-width="1.1" fill="none"/>
<path d="M895.2 113.9L901.2 110.2L900.3 116.6Z" fill="#ff0000" stroke="#7a1010" stroke-width="0.5"/>
<text x="30.59 41.83 53.07 64.30" y="55.12" transform="scale(1.390,1)" font-size="17.0" fill="#1a1a1a" stroke="#1a1a1a" stroke-width="0.18">5000</text>
<path d="M34.30 43.42V55.12" stroke="#1a1a1a" stroke-width="1.8" fill="none"/>
<path d="M34.90 43.72C33.90 45.42 31.20 45.72 29.10 46.82" stroke="#1a1a1a" stroke-width="1.4" fill="none"/>
<text x="30.59 41.83 53.07 64.30" y="219.82" transform="scale(1.390,1)" font-size="17.0" fill="#1a1a1a" stroke="#1a1a1a" stroke-width="0.18">0000</text>
<path d="M34.30 208.12V219.82" stroke="#1a1a1a" stroke-width="1.8" fill="none"/>
<path d="M34.90 208.42C33.90 210.12 31.20 210.42 29.10 211.52" stroke="#1a1a1a" stroke-width="1.4" fill="none"/>
<text x="28.31 39.54 50.77 62.00" y="383.82" transform="scale(1.390,1)" font-size="17.0" fill="#1a1a1a" stroke="#1a1a1a" stroke-width="0.18">5000</text>
<text x="52.65" y="548.72" transform="scale(1.390,1)" font-size="17.0" fill="#1a1a1a" stroke="#1a1a1a" stroke-width="0.18">0</text>
<text x="27.84 39.49 51.14 62.79" y="698.82" transform="scale(1.390,1)" font-size="17.0" fill="#1a1a1a" stroke="#1a1a1a" stroke-width="0.18">3000</text>
<text x="26.99 38.92 50.86 62.79" y="832.12" transform="scale(1.390,1)" font-size="17.0" fill="#1a1a1a" stroke="#1a1a1a" stroke-width="0.18">2000</text>
<text x="39.64 51.36 63.08" y="965.62" transform="scale(1.390,1)" font-size="17.0" fill="#1a1a1a" stroke="#1a1a1a" stroke-width="0.18">000</text>
<path d="M46.20 953.92V965.62" stroke="#1a1a1a" stroke-width="1.8" fill="none"/>
<path d="M46.80 954.22C45.80 955.92 43.10 956.22 41.00 957.32" stroke="#1a1a1a" stroke-width="1.4" fill="none"/>
<text x="51.57" y="1098.32" transform="scale(1.390,1)" font-size="17.0" fill="#1a1a1a" stroke="#1a1a1a" stroke-width="0.18">0</text>
<text x="41.64 52.11 62.58" y="1232.22" transform="scale(1.390,1)" font-size="17.0" fill="#1a1a1a" stroke="#1a1a1a" stroke-width="0.18">800</text>
<text x="41.51 52.04 62.58" y="1348.42" transform="scale(1.390,1)" font-size="17.0" fill="#1a1a1a" stroke="#1a1a1a" stroke-width="0.18">600</text>
<text x="41.70 52.14 62.58" y="1462.82" transform="scale(1.390,1)" font-size="17.0" fill="#1a1a1a" stroke="#1a1a1a" stroke-width="0.18">400</text>
<text x="41.52 52.12 62.72" y="1579.42" transform="scale(1.390,1)" font-size="17.0" fill="#1a1a1a" stroke="#1a1a1a" stroke-width="0.18">200</text>
<text x="58.11" y="1693.92" transform="scale(1.390,1)" font-size="17.0" fill="#1a1a1a" stroke="#1a1a1a" stroke-width="0.18">0</text>
<text x="72.50" y="561.52" transform="scale(1.390,1)" font-size="17.0" fill="#1a1a1a" stroke="#1a1a1a" stroke-width="0.18">0</text>
<text x="214.08 224.97 231.12" y="561.52" transform="scale(1.390,1)" font-size="17.0" fill="#1a1a1a" stroke="#1a1a1a" stroke-width="0.18">0.4</text>
<text x="360.99 372.32 378.91" y="561.52" transform="scale(1.390,1)" font-size="17.0" fill="#1a1a1a" stroke="#1a1a1a" stroke-width="0.18">0.8</text>
<text x="520.87 527.37" y="561.52" transform="scale(1.390,1)" font-size="17.0" fill="#1a1a1a" stroke="#1a1a1a" stroke-width="0.18">.2</text>
<path d="M715.80 549.82V561.52" stroke="#1a1a1a" stroke-width="1.8" fill="none"/>
<path d="M716.40 550.12C715.40 551.82 712.70 552.12 710.60 553.22" stroke="#1a1a1a" stroke-width="1.4" fill="none"/>
<text x="667.76 674.53" y="561.52" transform="scale(1.390,1)" font-size="17.0" fill="#1a1a1a" stroke="#1a1a1a" stroke-width="0.18">.6</text>
<path d="M919.60 549.82V561.52" stroke="#1a1a1a" stroke-width="1.8" fill="none"/>
<path d="M920.20 550.12C919.20 551.82 916.50 552.12 914.40 553.22" stroke="#1a1a1a" stroke-width="1.4" fill="none"/>
<text x="808.79" y="561.52" transform="scale(1.390,1)" font-size="17.0" fill="#1a1a1a" stroke="#1a1a1a" stroke-width="0.18">2</text>
<text x="950.37 961.09 967.09" y="561.52" transform="scale(1.390,1)" font-size="17.0" fill="#1a1a1a" stroke="#1a1a1a" stroke-width="0.18">2.4</text>
<text x="73.58" y="1114.12" transform="scale(1.390,1)" font-size="17.0" fill="#1a1a1a" stroke="#1a1a1a" stroke-width="0.18">0</text>
<text x="212.72 224.39 231.33" y="1114.12" transform="scale(1.390,1)" font-size="17.0" fill="#1a1a1a" stroke="#1a1a1a" stroke-width="0.18">0.4</text>
<text x="357.47 369.73 377.26" y="1114.12" transform="scale(1.390,1)" font-size="17.0" fill="#1a1a1a" stroke="#1a1a1a" stroke-width="0.18">0.8</text>
<text x="515.55 522.34" y="1114.12" transform="scale(1.390,1)" font-size="17.0" fill="#1a1a1a" stroke="#1a1a1a" stroke-width="0.18">.2</text>
<path d="M708.00 1102.42V1114.12" stroke="#1a1a1a" stroke-width="1.8" fill="none"/>
<path d="M708.60 1102.72C707.60 1104.42 704.90 1104.72 702.80 1105.82" stroke="#1a1a1a" stroke-width="1.4" fill="none"/>
<text x="660.64 667.70" y="1114.12" transform="scale(1.390,1)" font-size="17.0" fill="#1a1a1a" stroke="#1a1a1a" stroke-width="0.18">.6</text>
<path d="M909.30 1102.42V1114.12" stroke="#1a1a1a" stroke-width="1.8" fill="none"/>
<path d="M909.90 1102.72C908.90 1104.42 906.20 1104.72 904.10 1105.82" stroke="#1a1a1a" stroke-width="1.4" fill="none"/>
<text x="799.15" y="1114.12" transform="scale(1.390,1)" font-size="17.0" fill="#1a1a1a" stroke="#1a1a1a" stroke-width="0.18">2</text>
<text x="938.57 950.16 957.01" y="1114.12" transform="scale(1.390,1)" font-size="17.0" fill="#1a1a1a" stroke="#1a1a1a" stroke-width="0.18">2.4</text>
<text x="73.58" y="1710.42" transform="scale(1.390,1)" font-size="17.0" fill="#1a1a1a" stroke="#1a1a1a" stroke-width="0.18">0</text>
<text x="213.01 223.31 228.89" y="1710.42" transform="scale(1.390,1)" font-size="17.0" fill="#1a1a1a" stroke="#1a1a1a" stroke-width="0.18">0.4</text>
<text x="357.90 368.68 374.74" y="1710.42" transform="scale(1.390,1)" font-size="17.0" fill="#1a1a1a" stroke="#1a1a1a" stroke-width="0.18">0.8</text>
<text x="514.97 520.32" y="1710.42" transform="scale(1.390,1)" font-size="17.0" fill="#1a1a1a" stroke="#1a1a1a" stroke-width="0.18">.2</text>
<path d="M709.20 1698.72V1710.42" stroke="#1a1a1a" stroke-width="1.8" fill="none"/>
<path d="M709.80 1699.02C708.80 1700.72 706.10 1701.02 704.00 1702.12" stroke="#1a1a1a" stroke-width="1.4" fill="none"/>
<text x="659.74 665.18" y="1710.42" transform="scale(1.390,1)" font-size="17.0" fill="#1a1a1a" stroke="#1a1a1a" stroke-width="0.18">.6</text>
<path d="M910.30 1698.72V1710.42" stroke="#1a1a1a" stroke-width="1.8" fill="none"/>
<path d="M910.90 1699.02C909.90 1700.72 907.20 1701.02 905.10 1702.12" stroke="#1a1a1a" stroke-width="1.4" fill="none"/>
<text x="799.58" y="1710.42" transform="scale(1.390,1)" font-size="17.0" fill="#1a1a1a" stroke="#1a1a1a" stroke-width="0.18">2</text>
<text x="939.00 949.26 954.78" y="1710.42" transform="scale(1.390,1)" font-size="17.0" fill="#1a1a1a" stroke="#1a1a1a" stroke-width="0.18">2.4</text>
<path d="M1283.5 574.5L1294.5 581.9M1294.5 574.5L1283.5 581.9" stroke="#1a1a1a" stroke-width="1.2" fill="none"/>
<text x="946.46" y="584.12" transform="scale(1.390,1)" font-size="17.0" fill="#1a1a1a" stroke="#1a1a1a" stroke-width="0.18">0</text>
<path d="M1306.60 572.42V584.12" stroke="#1a1a1a" stroke-width="1.8" fill="none"/>
<path d="M1307.20 572.72C1306.20 574.42 1303.50 574.72 1301.40 575.82" stroke="#1a1a1a" stroke-width="1.4" fill="none"/>
<text x="957.16" y="578.92" transform="scale(1.390,1)" font-size="17.0" fill="#1a1a1a" stroke="#1a1a1a" stroke-width="0.18">4</text>
<path d="M1268.1 1127.8L1279.1 1135.2M1279.1 1127.8L1268.1 1135.2" stroke="#1a1a1a" stroke-width="1.2" fill="none"/>
<text x="935.38" y="1137.42" transform="scale(1.390,1)" font-size="17.0" fill="#1a1a1a" stroke="#1a1a1a" stroke-width="0.18">0</text>
<path d="M1291.20 1125.72V1137.42" stroke="#1a1a1a" stroke-width="1.8" fill="none"/>
<path d="M1291.80 1126.02C1290.80 1127.72 1288.10 1128.02 1286.00 1129.12" stroke="#1a1a1a" stroke-width="1.4" fill="none"/>
<text x="946.08" y="1132.22" transform="scale(1.390,1)" font-size="17.0" fill="#1a1a1a" stroke="#1a1a1a" stroke-width="0.18">4</text>
<path d="M1268.1 1725.0L1279.1 1732.4M1279.1 1725.0L1268.1 1732.4" stroke="#1a1a1a" stroke-width="1.2" fill="none"/>
<text x="935.38" y="1734.62" transform="scale(1.390,1)" font-size="17.0" fill="#1a1a1a" stroke="#1a1a1a" stroke-width="0.18">0</text>
<path d="M1291.20 1722.92V1734.62" stroke="#1a1a1a" stroke-width="1.8" fill="none"/>
<path d="M1291.80 1723.22C1290.80 1724.92 1288.10 1725.22 1286.00 1726.32" stroke="#1a1a1a" stroke-width="1.4" fill="none"/>
<text x="946.08" y="1729.42" transform="scale(1.390,1)" font-size="17.0" fill="#1a1a1a" stroke="#1a1a1a" stroke-width="0.18">4</text>
<text x="694.93" y="585.20" font-size="16" fill="#1a1a1a" textLength="59.88" lengthAdjust="spacingAndGlyphs">Time (s)</text>
<text x="689.63" y="1135.40" font-size="16" fill="#1a1a1a" textLength="59.78" lengthAdjust="spacingAndGlyphs">Time (s)</text>
<text x="689.63" y="1733.60" font-size="16" fill="#1a1a1a" textLength="59.78" lengthAdjust="spacingAndGlyphs">Time (s)</text>
<g transform="translate(12.60,366.40) rotate(-90)">
<text x="-0.72" y="0" font-size="16" fill="#1a1a1a" textLength="141.91" lengthAdjust="spacingAndGlyphs">Sound intensity (db)</text>
</g>
<g transform="translate(19.20,880.50) rotate(-90)">
<text x="-0.72" y="0" font-size="16" fill="#1a1a1a" textLength="141.81" lengthAdjust="spacingAndGlyphs">Sound intensity (db)</text>
</g>
<g transform="translate(34.60,1462.50) rotate(-90)">
<text x="-0.72" y="0" font-size="16" fill="#1a1a1a" textLength="141.81" lengthAdjust="spacingAndGlyphs">Sound intensity (db)</text>
</g>
<text x="232.46" y="146.80" font-size="16" fill="#1a1a1a" textLength="120.36" lengthAdjust="spacingAndGlyphs">Expansion stage</text>
<text x="575.75" y="149.60" font-size="16" fill="#1a1a1a" textLength="186.67" lengthAdjust="spacingAndGlyphs">Unstable expansion stage</text>
<text x="950.26" y="108.60" font-size="16" fill="#1a1a1a" textLength="105.16" lengthAdjust="spacingAndGlyphs">Fracture stage</text>
<text x="978.27" y="144.80" font-size="16" fill="#1a1a1a" textLength="234.75" lengthAdjust="spacingAndGlyphs">Post-fracture development stage</text>
<text x="-0.8" y="24.3" font-size="29" font-weight="bold" fill="#000">A</text>
<text x="-0.2" y="611.7" font-size="29" font-weight="bold" fill="#000">B</text>
<text x="0.2" y="1167" font-size="29" font-weight="bold" fill="#000">C</text>
</svg></body></html>
